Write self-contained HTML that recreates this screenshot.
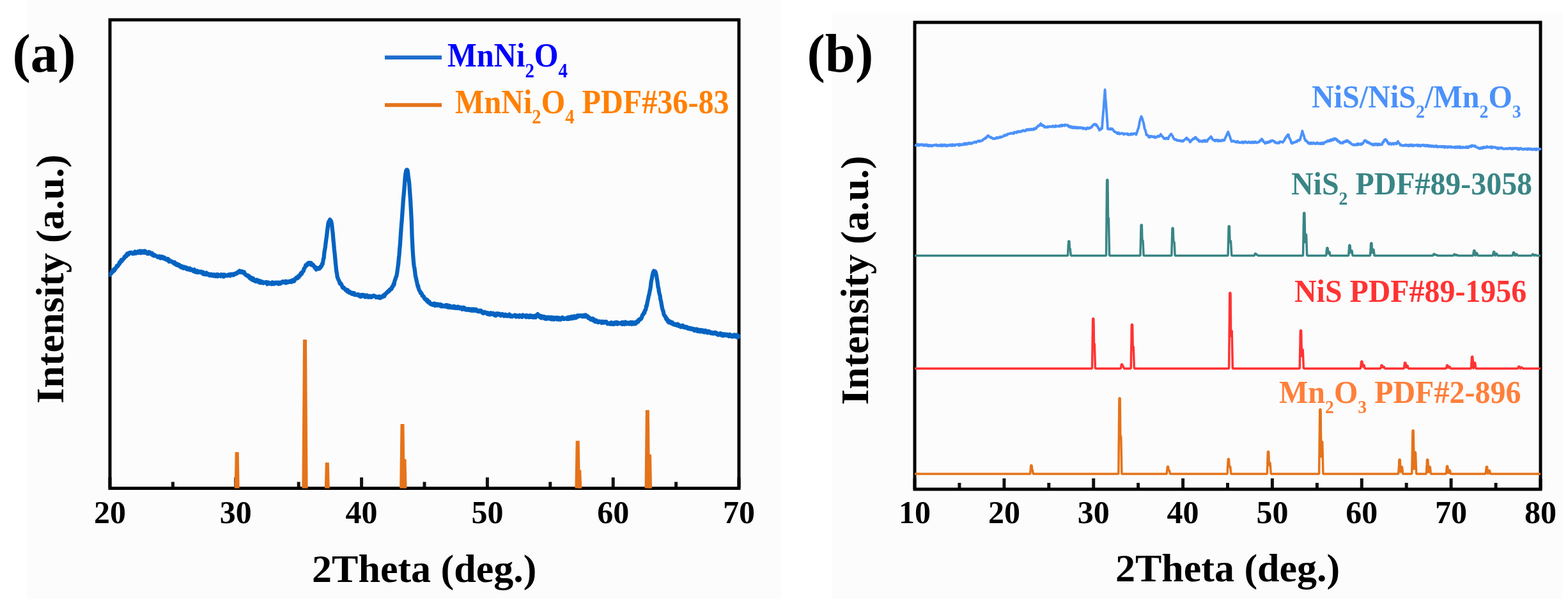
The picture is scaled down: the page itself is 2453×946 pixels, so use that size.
<!DOCTYPE html><html><head><meta charset="utf-8"><title>XRD patterns</title><style>html,body{margin:0;padding:0;background:#fff}svg{display:block}text{font-family:"Liberation Serif","Times New Roman",serif;font-weight:bold}</style></head><body>
<svg width="2453" height="946" viewBox="0 0 2453 946">
<rect width="2453" height="946" fill="#ffffff"/>
<rect x="43" y="0" width="1179" height="936" fill="#fcfcfc"/>
<rect x="1301" y="20" width="1143" height="916" fill="#fcfcfc"/>
<path d="M172.0,763.5 V746.5 M368.8,763.5 V746.5 M565.6,763.5 V746.5 M762.4,763.5 V746.5 M959.2,763.5 V746.5 M1156.0,763.5 V746.5 M270.4,763.5 V753.5 M467.2,763.5 V753.5 M664.0,763.5 V753.5 M860.8,763.5 V753.5 M1057.6,763.5 V753.5" fill="none" stroke="#111" stroke-width="5"/>
<rect x="172.0" y="31.0" width="984.0" height="732.5" fill="none" stroke="#000" stroke-width="5"/>
<path d="M172.0,429.1 L172.4,429.6 L173.0,428.2 L173.7,428.0 L174.6,427.0 L175.4,424.0 L176.3,422.7 L176.9,424.8 L177.6,422.1 L178.3,421.2 L179.0,423.0 L179.7,420.3 L180.5,420.7 L181.2,418.6 L182.0,418.3 L182.7,415.8 L183.4,416.6 L184.1,416.5 L184.8,414.4 L185.5,414.3 L186.2,413.2 L186.9,410.2 L187.6,411.6 L188.3,410.2 L189.0,408.3 L189.7,406.5 L190.4,408.5 L191.1,406.2 L191.8,406.2 L192.6,405.8 L193.3,404.4 L194.0,404.3 L194.7,401.7 L195.4,402.3 L196.2,400.3 L197.0,401.2 L197.8,400.3 L198.6,397.0 L199.3,396.5 L200.1,396.2 L200.9,398.2 L201.7,396.0 L202.4,396.3 L203.0,395.0 L203.6,395.5 L204.1,395.0 L204.8,394.8 L205.4,395.5 L206.2,395.5 L207.0,396.5 L208.0,395.6 L208.6,396.4 L209.2,396.1 L209.8,396.5 L210.5,395.3 L211.2,393.5 L211.9,395.8 L212.7,396.1 L213.4,395.8 L214.2,394.6 L215.0,395.0 L215.8,393.3 L216.5,395.3 L217.3,394.4 L218.1,393.4 L218.8,392.6 L219.5,395.2 L220.2,395.7 L220.8,392.6 L221.6,395.0 L222.4,393.7 L223.1,392.8 L223.8,393.3 L224.5,394.9 L225.2,395.3 L225.8,392.5 L226.5,394.5 L227.2,392.6 L227.9,395.0 L228.6,393.9 L229.4,395.9 L230.3,396.4 L230.9,395.0 L231.6,396.8 L232.2,394.7 L232.9,394.1 L233.6,396.2 L234.3,394.5 L235.0,395.3 L235.7,396.3 L236.4,397.3 L237.2,396.0 L237.9,395.9 L238.7,399.0 L239.4,397.4 L240.2,399.9 L241.0,400.0 L241.7,398.6 L242.5,399.1 L243.2,399.6 L244.0,400.3 L244.7,400.4 L245.4,400.5 L246.1,400.9 L246.8,402.2 L247.5,401.0 L248.2,401.0 L248.9,402.2 L249.7,400.8 L250.4,401.2 L251.1,403.7 L251.8,402.4 L252.5,402.8 L253.3,401.2 L254.0,402.8 L254.7,403.6 L255.4,401.9 L256.1,404.2 L256.8,404.5 L257.5,402.8 L258.1,405.0 L258.8,404.7 L259.6,405.7 L260.3,404.9 L261.0,406.4 L261.8,406.9 L262.5,404.8 L263.2,405.2 L263.9,407.6 L264.6,409.0 L265.3,406.9 L266.0,407.9 L266.7,408.7 L267.4,408.1 L268.0,408.6 L268.7,408.8 L269.4,409.3 L270.1,410.4 L270.8,409.8 L271.5,410.4 L272.2,412.1 L273.0,409.9 L273.7,412.1 L274.4,413.1 L275.2,412.0 L275.9,412.1 L276.6,414.5 L277.4,412.9 L278.1,413.2 L278.8,414.4 L279.6,415.6 L280.3,414.0 L281.0,415.1 L281.8,415.5 L282.5,417.5 L283.3,416.5 L284.0,418.2 L284.7,416.2 L285.4,417.0 L286.1,418.3 L286.9,419.4 L287.6,418.1 L288.3,417.6 L289.0,417.4 L289.8,419.0 L290.5,418.1 L291.2,420.4 L292.0,420.7 L292.7,418.7 L293.4,419.2 L294.1,421.2 L294.9,420.9 L295.6,421.6 L296.3,420.3 L297.0,419.7 L297.7,420.5 L298.4,422.4 L299.1,420.9 L299.8,421.3 L300.5,421.8 L301.2,422.0 L301.9,422.2 L302.6,424.1 L303.3,421.7 L304.0,421.4 L304.7,424.8 L305.4,424.8 L306.1,425.4 L306.8,423.7 L307.5,425.6 L308.2,425.8 L308.9,423.6 L309.6,425.5 L310.3,426.1 L311.1,425.7 L311.8,425.4 L312.5,424.8 L313.2,425.2 L314.0,425.0 L314.7,424.7 L315.4,426.6 L316.1,425.8 L316.9,427.8 L317.6,425.4 L318.3,428.5 L319.0,428.0 L319.8,428.9 L320.5,429.0 L321.3,429.2 L322.0,428.3 L322.7,426.5 L323.4,429.2 L324.1,427.4 L324.9,427.9 L325.6,429.3 L326.3,429.0 L327.0,428.8 L327.8,430.7 L328.5,429.8 L329.2,429.0 L329.9,428.8 L330.7,431.0 L331.4,429.8 L332.1,431.0 L332.8,429.6 L333.6,429.2 L334.3,430.4 L335.0,431.5 L335.7,429.4 L336.4,431.5 L337.1,432.1 L337.8,431.7 L338.5,431.8 L339.2,429.1 L339.9,431.3 L340.6,432.1 L341.3,429.4 L342.0,430.1 L342.7,430.2 L343.4,431.0 L344.1,430.7 L344.8,430.9 L345.5,431.9 L346.2,429.3 L346.9,429.5 L347.6,429.7 L348.3,429.7 L349.1,429.5 L349.9,432.6 L350.6,432.2 L351.4,429.6 L352.2,431.0 L352.9,430.3 L353.7,430.3 L354.5,430.4 L355.2,431.3 L356.0,431.1 L356.7,430.3 L357.4,429.6 L358.1,430.0 L358.7,429.3 L359.4,430.7 L360.0,431.1 L360.9,429.8 L361.7,428.7 L362.5,428.8 L363.2,429.3 L363.9,429.8 L364.6,430.2 L365.2,428.6 L365.9,429.8 L366.6,428.9 L367.3,428.0 L368.0,427.6 L368.7,427.7 L369.5,428.1 L370.2,426.8 L371.0,427.3 L371.7,426.2 L372.5,425.0 L373.3,425.7 L374.0,425.9 L374.8,423.5 L375.5,424.5 L376.2,424.3 L376.8,425.8 L377.7,426.0 L378.5,424.3 L379.2,426.3 L379.9,426.3 L380.6,425.0 L381.3,426.2 L382.1,425.6 L383.0,428.6 L383.6,428.5 L384.3,429.8 L385.0,430.1 L385.7,430.3 L386.4,431.2 L387.1,431.3 L387.8,430.5 L388.6,432.8 L389.4,431.5 L390.3,432.6 L391.1,435.4 L392.0,433.5 L392.6,434.0 L393.2,434.3 L393.9,437.3 L394.6,435.2 L395.3,435.0 L396.0,438.1 L396.7,436.0 L397.4,438.7 L398.1,438.4 L398.9,439.2 L399.6,439.9 L400.3,438.9 L401.1,439.9 L401.8,437.5 L402.5,440.2 L403.3,439.6 L404.0,440.5 L404.7,438.7 L405.4,441.1 L406.1,441.9 L406.7,439.1 L407.4,440.2 L408.1,441.2 L408.7,442.2 L409.3,440.4 L410.0,440.3 L410.7,440.7 L411.3,442.1 L412.0,442.7 L412.7,441.6 L413.4,441.6 L414.2,441.8 L414.9,441.7 L415.7,442.1 L416.5,441.0 L417.4,442.5 L418.0,444.2 L418.6,442.3 L419.3,443.5 L419.9,441.5 L420.6,443.3 L421.3,443.6 L422.0,443.3 L422.7,442.8 L423.4,442.7 L424.1,443.3 L424.9,444.2 L425.6,441.6 L426.3,441.4 L427.1,443.7 L427.8,444.2 L428.6,442.9 L429.3,442.6 L430.1,443.5 L430.8,441.7 L431.6,441.9 L432.3,441.7 L433.0,443.0 L433.7,442.0 L434.4,441.7 L435.1,443.2 L435.8,444.1 L436.4,441.8 L437.2,443.1 L438.0,442.1 L438.8,443.5 L439.5,442.5 L440.3,441.3 L441.1,441.0 L441.9,440.3 L442.6,441.7 L443.4,441.2 L444.1,440.4 L444.9,440.9 L445.6,440.6 L446.3,442.0 L447.0,439.8 L447.7,442.5 L448.4,440.6 L449.0,440.9 L449.7,440.3 L450.3,441.5 L450.9,441.3 L451.5,440.3 L452.0,439.9 L453.0,440.6 L453.9,440.9 L454.7,439.2 L455.4,440.3 L456.1,440.9 L456.7,439.1 L457.3,438.2 L458.0,438.0 L458.6,439.4 L459.3,439.0 L460.0,439.6 L460.7,438.8 L461.5,436.2 L462.2,435.5 L463.0,435.1 L463.8,434.2 L464.6,435.3 L465.4,435.2 L466.1,434.6 L466.9,431.7 L467.6,433.1 L468.3,430.6 L468.9,430.3 L469.8,430.5 L470.6,427.4 L471.4,426.5 L472.1,428.1 L472.8,425.4 L473.5,424.7 L474.2,424.5 L474.8,423.8 L475.6,420.0 L476.3,419.5 L477.0,418.2 L477.7,416.8 L478.4,414.4 L479.2,414.6 L479.9,415.2 L480.6,412.8 L481.3,412.9 L482.1,411.2 L482.9,411.5 L483.6,412.7 L484.4,410.8 L485.1,413.4 L485.9,413.6 L486.6,411.1 L487.4,414.4 L488.1,412.9 L488.8,414.8 L489.6,415.3 L490.3,414.3 L491.0,416.3 L491.8,417.1 L492.5,418.5 L493.2,417.6 L494.0,420.1 L494.7,421.4 L495.5,420.8 L496.2,420.4 L497.0,419.0 L497.8,420.2 L498.5,419.4 L499.3,420.3 L500.1,419.7 L500.8,418.8 L501.4,416.9 L502.3,417.3 L503.1,415.9 L503.8,412.7 L504.5,413.3 L505.1,410.4 L505.9,404.9 L506.6,403.4 L507.3,395.4 L508.0,391.1 L508.8,386.8 L509.5,380.5 L510.3,374.6 L511.1,369.0 L511.8,362.3 L512.6,356.2 L513.3,351.1 L514.0,347.2 L514.8,346.5 L515.5,344.8 L516.2,343.4 L517.0,344.8 L517.7,345.3 L518.5,347.8 L519.2,351.8 L520.0,359.9 L520.7,365.0 L521.4,374.4 L522.1,380.9 L522.9,390.1 L523.6,396.1 L524.3,403.6 L525.0,411.4 L525.8,418.9 L526.4,424.7 L527.1,428.0 L527.9,434.0 L528.8,435.2 L529.4,437.5 L530.1,438.4 L530.8,439.7 L531.6,443.1 L532.4,444.0 L533.2,443.2 L534.0,444.3 L534.7,446.1 L535.4,448.3 L536.0,449.5 L536.7,450.2 L537.4,450.6 L538.2,450.0 L539.0,451.7 L539.9,451.8 L540.5,453.4 L541.2,453.9 L541.9,453.1 L542.6,453.6 L543.3,455.8 L544.0,453.6 L544.8,456.5 L545.6,457.2 L546.3,457.7 L547.1,456.1 L548.0,457.0 L548.8,457.5 L549.4,457.9 L550.0,459.4 L550.6,458.7 L551.2,457.7 L551.8,459.9 L552.4,458.9 L553.0,459.7 L553.6,460.4 L554.2,458.2 L554.9,461.1 L555.6,461.0 L556.4,460.7 L557.2,461.1 L558.1,461.1 L559.0,460.5 L560.0,461.8 L560.5,460.2 L561.1,461.9 L561.7,462.5 L562.3,461.9 L563.0,462.4 L563.7,463.8 L564.3,463.6 L565.0,461.1 L565.8,463.4 L566.5,462.9 L567.2,461.0 L568.0,462.2 L568.7,461.8 L569.5,461.3 L570.3,462.9 L571.0,464.3 L571.8,462.3 L572.6,464.2 L573.4,463.6 L574.1,461.8 L574.9,464.3 L575.6,463.5 L576.4,464.6 L577.1,463.9 L577.8,464.1 L578.5,462.8 L579.2,464.4 L579.9,464.8 L580.6,464.6 L581.2,463.2 L581.8,464.4 L582.7,463.5 L583.5,462.3 L584.4,462.2 L585.2,462.4 L586.0,462.9 L586.9,462.9 L587.6,464.1 L588.4,464.9 L589.2,464.4 L589.9,464.1 L590.7,465.0 L591.4,463.9 L592.1,464.5 L592.8,465.5 L593.4,464.4 L594.1,463.6 L594.7,466.1 L595.3,465.4 L595.9,464.2 L596.5,464.1 L597.0,464.6 L598.1,464.6 L599.0,462.9 L599.8,461.7 L600.6,461.9 L601.2,463.3 L601.9,460.5 L602.5,460.9 L603.1,459.4 L603.7,458.9 L604.3,458.2 L605.1,458.3 L605.9,456.9 L606.6,455.8 L607.3,455.4 L608.0,454.9 L608.7,455.4 L609.3,453.2 L610.0,452.4 L610.9,452.9 L611.7,451.8 L612.5,451.9 L613.3,448.6 L614.1,448.7 L614.8,447.3 L615.6,444.3 L616.4,445.4 L617.1,440.7 L617.8,438.0 L618.5,436.9 L619.3,433.4 L620.1,432.6 L620.9,428.6 L621.7,423.1 L622.4,417.5 L623.1,413.4 L623.8,404.6 L624.5,398.6 L625.2,389.4 L625.9,382.4 L626.6,371.1 L627.3,361.3 L628.0,351.7 L628.7,344.1 L629.4,333.8 L630.2,322.8 L630.9,312.1 L631.6,304.9 L632.2,298.1 L633.1,286.6 L633.8,277.0 L634.5,271.4 L635.5,266.5 L636.4,265.4 L637.1,265.5 L637.8,267.6 L638.5,273.5 L639.3,280.1 L640.1,285.3 L641.0,298.1 L641.9,310.1 L642.9,327.5 L643.8,344.4 L644.6,369.7 L645.6,390.4 L646.2,399.4 L646.9,408.0 L647.7,416.1 L648.5,419.5 L649.3,425.8 L650.0,432.4 L650.7,433.7 L651.4,437.9 L652.1,440.6 L652.9,444.6 L653.5,447.7 L654.2,447.2 L654.8,451.0 L655.6,452.8 L656.4,454.9 L657.3,455.8 L657.9,458.2 L658.6,457.5 L659.2,458.8 L659.9,459.4 L660.6,462.5 L661.4,462.6 L662.2,463.0 L663.1,463.8 L664.0,466.7 L664.9,467.4 L665.5,468.3 L666.1,467.8 L666.7,468.8 L667.2,468.2 L667.8,470.7 L668.4,468.9 L669.1,471.0 L669.7,472.5 L670.4,472.8 L671.1,471.3 L671.9,472.3 L672.7,474.8 L673.5,474.6 L674.5,475.8 L675.4,476.2 L676.5,475.1 L677.0,476.8 L677.6,476.4 L678.2,475.2 L678.8,475.5 L679.5,474.6 L680.1,475.9 L680.8,477.9 L681.5,475.2 L682.2,476.9 L682.9,475.4 L683.7,475.4 L684.4,477.5 L685.2,476.2 L686.0,475.7 L686.7,476.1 L687.5,477.9 L688.3,477.8 L689.1,475.9 L689.9,476.7 L690.6,479.3 L691.4,476.9 L692.2,478.1 L692.9,477.7 L693.7,479.0 L694.4,478.5 L695.2,479.2 L695.9,478.4 L696.6,477.3 L697.3,477.4 L697.9,477.1 L698.6,479.7 L699.2,477.4 L699.8,477.2 L700.7,480.5 L701.5,478.0 L702.2,480.5 L703.0,477.9 L703.7,479.2 L704.3,478.5 L705.0,480.7 L705.6,480.0 L706.3,480.2 L706.9,480.7 L707.5,481.2 L708.1,479.5 L708.7,480.4 L709.3,480.0 L710.0,478.9 L710.7,481.5 L711.4,480.8 L712.1,481.6 L712.8,479.6 L713.6,480.9 L714.5,480.8 L715.4,481.8 L716.0,479.6 L716.6,480.6 L717.2,481.2 L717.8,479.9 L718.4,481.6 L719.1,482.3 L719.7,481.3 L720.4,482.1 L721.0,482.1 L721.7,480.8 L722.4,481.4 L723.1,483.7 L723.8,481.5 L724.5,481.9 L725.3,480.8 L726.0,481.4 L726.7,481.3 L727.4,484.0 L728.2,483.4 L728.9,484.0 L729.7,484.5 L730.4,483.3 L731.2,484.5 L731.9,483.2 L732.7,482.9 L733.4,484.8 L734.1,484.8 L734.9,485.1 L735.6,483.6 L736.4,484.7 L737.1,483.6 L737.8,485.7 L738.6,485.5 L739.3,483.5 L740.0,485.8 L740.7,483.4 L741.4,483.3 L742.1,485.5 L742.8,484.2 L743.5,485.1 L744.2,485.7 L744.9,483.8 L745.6,486.4 L746.3,485.0 L747.0,485.7 L747.7,485.6 L748.4,487.1 L749.1,487.3 L749.8,485.9 L750.5,485.5 L751.2,486.3 L751.9,486.9 L752.6,485.9 L753.3,486.4 L754.0,488.6 L754.7,488.6 L755.4,489.7 L756.1,489.9 L756.8,489.8 L757.6,488.2 L758.3,487.7 L759.0,488.4 L759.7,489.1 L760.4,489.4 L761.1,489.7 L761.8,489.2 L762.5,491.0 L763.2,489.2 L763.9,490.0 L764.6,491.6 L765.3,491.4 L766.0,489.8 L766.7,489.7 L767.4,491.8 L768.1,489.2 L768.8,489.7 L769.5,491.1 L770.2,491.3 L770.9,490.1 L771.7,489.8 L772.4,490.4 L773.1,492.4 L773.8,491.4 L774.5,493.3 L775.2,492.7 L775.9,493.4 L776.6,490.3 L777.3,490.9 L778.0,490.3 L778.7,491.8 L779.4,491.6 L780.2,490.6 L780.9,492.4 L781.6,490.9 L782.3,491.7 L783.0,491.5 L783.7,493.5 L784.4,492.2 L785.1,491.7 L785.8,491.0 L786.5,492.4 L787.2,493.1 L788.0,493.3 L788.7,494.2 L789.4,493.9 L790.1,492.0 L790.8,491.7 L791.5,493.9 L792.2,494.0 L792.9,493.1 L793.7,494.3 L794.4,493.4 L795.1,492.5 L795.9,492.2 L796.6,491.7 L797.4,493.9 L798.2,494.8 L798.9,494.8 L799.7,493.4 L800.5,494.1 L801.2,495.0 L802.0,494.7 L802.8,494.0 L803.5,493.4 L804.3,493.8 L805.0,492.6 L805.8,492.7 L806.5,494.4 L807.3,495.5 L808.0,494.0 L808.7,493.6 L809.4,493.4 L810.1,493.8 L810.8,495.0 L811.5,493.8 L812.2,495.6 L812.8,492.9 L813.5,493.4 L814.1,494.2 L814.7,493.8 L815.3,495.3 L815.9,495.3 L816.5,495.6 L817.0,494.6 L818.0,492.6 L819.0,494.5 L819.9,494.5 L820.8,494.3 L821.7,493.6 L822.4,495.1 L823.2,495.8 L823.9,493.0 L824.6,495.0 L825.3,494.0 L825.9,494.5 L826.5,495.8 L827.1,496.0 L827.7,494.9 L828.3,493.4 L828.8,495.9 L829.4,493.4 L830.0,494.1 L830.9,495.7 L831.8,494.0 L832.7,493.9 L833.4,496.2 L834.2,496.3 L834.9,494.2 L835.6,494.5 L836.2,494.2 L836.9,493.7 L837.4,494.0 L838.0,496.4 L839.1,493.0 L839.9,492.9 L840.6,492.1 L841.3,491.2 L842.0,492.6 L842.6,493.6 L843.1,494.5 L843.7,494.6 L844.6,496.0 L846.0,493.8 L846.5,494.9 L847.0,497.3 L847.5,494.4 L848.1,495.2 L848.7,496.0 L849.3,495.4 L849.9,496.5 L850.6,494.9 L851.3,495.7 L852.0,498.2 L852.7,495.5 L853.5,498.2 L854.3,495.9 L855.0,498.7 L855.8,497.7 L856.7,497.7 L857.5,496.1 L858.3,495.9 L859.2,498.3 L860.0,496.4 L860.6,496.5 L861.3,498.7 L861.9,498.9 L862.6,496.1 L863.3,499.3 L864.0,497.9 L864.7,497.4 L865.4,496.5 L866.2,497.5 L866.9,499.5 L867.7,497.2 L868.4,496.7 L869.2,496.7 L869.9,496.7 L870.7,497.5 L871.5,499.4 L872.2,496.6 L873.0,497.0 L873.7,499.5 L874.5,499.7 L875.2,499.7 L875.9,497.2 L876.7,497.6 L877.4,499.6 L878.0,498.0 L878.7,498.7 L879.4,497.4 L880.0,496.4 L880.8,497.4 L881.6,498.8 L882.4,498.9 L883.2,498.1 L884.0,497.7 L884.8,497.9 L885.6,497.5 L886.3,497.7 L887.0,498.7 L887.8,496.4 L888.5,497.7 L889.2,498.8 L889.9,498.4 L890.6,496.0 L891.2,498.6 L891.9,498.1 L892.5,495.7 L893.2,496.0 L893.8,495.7 L894.4,495.1 L895.0,498.1 L895.9,496.1 L896.7,497.5 L897.5,494.8 L898.3,494.3 L899.1,497.0 L899.8,496.6 L900.6,497.1 L901.3,495.9 L901.9,495.2 L902.6,495.9 L903.2,493.5 L903.8,494.9 L904.4,494.4 L905.0,493.3 L905.9,494.7 L906.8,493.5 L907.5,494.0 L908.2,493.4 L908.9,493.1 L909.6,493.1 L910.3,493.9 L911.0,495.1 L911.7,494.9 L912.5,494.7 L913.2,494.5 L913.9,492.7 L914.6,495.1 L915.4,492.8 L916.2,492.5 L917.0,494.0 L917.6,495.1 L918.3,494.0 L919.0,495.4 L919.7,494.6 L920.4,497.4 L921.1,496.1 L921.9,496.7 L922.6,497.3 L923.4,498.9 L924.2,499.7 L925.0,498.6 L925.6,498.6 L926.2,499.5 L926.8,497.9 L927.4,499.5 L927.9,501.2 L928.5,501.2 L929.1,499.1 L929.8,502.1 L930.5,500.8 L931.2,503.1 L932.0,501.3 L932.9,501.0 L933.9,502.4 L935.0,503.8 L935.5,502.4 L936.1,504.0 L936.7,503.6 L937.2,502.5 L937.9,502.4 L938.5,503.2 L939.1,503.0 L939.8,503.0 L940.5,504.1 L941.2,504.9 L941.9,504.1 L942.6,502.7 L943.3,503.0 L944.1,503.7 L944.8,504.6 L945.6,503.1 L946.3,503.0 L947.1,503.9 L947.9,503.9 L948.6,503.1 L949.4,504.9 L950.2,506.3 L951.0,505.1 L951.7,505.9 L952.5,506.3 L953.3,506.4 L954.0,506.7 L954.8,505.1 L955.5,506.0 L956.3,504.2 L957.0,506.8 L957.7,505.1 L958.4,505.5 L959.2,506.9 L959.9,504.9 L960.6,504.6 L961.4,506.7 L962.2,506.0 L962.9,504.2 L963.7,504.0 L964.5,505.1 L965.2,504.0 L966.0,506.7 L966.8,504.5 L967.5,504.8 L968.3,505.2 L969.1,505.6 L969.8,505.3 L970.6,505.9 L971.3,506.0 L972.1,505.2 L972.8,504.0 L973.5,507.0 L974.3,506.0 L975.0,503.9 L975.6,505.1 L976.3,506.1 L977.0,506.9 L977.6,503.8 L978.2,503.6 L978.8,505.1 L979.4,504.9 L980.0,506.5 L981.0,506.3 L981.9,504.6 L982.8,505.0 L983.6,505.6 L984.4,506.6 L985.2,504.4 L985.9,505.0 L986.6,504.1 L987.3,506.0 L988.0,503.9 L988.6,507.0 L989.2,505.6 L989.8,505.8 L990.4,504.1 L991.0,504.6 L991.6,505.3 L992.1,506.5 L992.7,505.3 L993.7,504.2 L994.6,506.2 L995.4,504.8 L996.1,503.9 L996.9,502.3 L997.5,502.1 L998.2,503.5 L998.9,500.3 L999.6,500.9 L1000.3,500.5 L1001.0,498.8 L1001.8,499.4 L1002.5,498.9 L1003.3,497.8 L1004.0,496.3 L1004.7,493.5 L1005.4,491.9 L1006.1,492.0 L1006.7,490.5 L1007.3,489.0 L1008.2,489.3 L1009.0,485.1 L1009.7,485.1 L1010.4,483.4 L1011.0,478.4 L1011.7,478.7 L1012.5,473.9 L1013.3,470.1 L1014.1,466.7 L1014.8,462.8 L1015.5,460.8 L1016.4,455.7 L1017.2,452.2 L1018.0,447.2 L1018.7,440.2 L1019.6,436.4 L1020.4,432.0 L1021.2,427.9 L1022.0,425.4 L1022.9,423.6 L1023.8,424.7 L1024.6,424.3 L1025.4,425.1 L1026.2,427.8 L1027.0,431.4 L1027.8,436.5 L1028.6,441.1 L1029.5,448.7 L1030.2,450.7 L1030.9,456.0 L1031.7,459.7 L1032.5,462.1 L1033.3,468.0 L1034.0,470.7 L1034.8,475.2 L1035.5,479.4 L1036.3,483.2 L1037.1,485.9 L1037.7,486.7 L1038.4,491.1 L1039.1,493.0 L1039.9,493.4 L1040.6,495.2 L1041.4,495.5 L1042.2,499.0 L1042.9,499.3 L1043.6,498.7 L1044.3,501.5 L1045.0,502.9 L1045.8,501.4 L1046.6,504.3 L1047.5,503.2 L1048.5,502.8 L1049.1,505.0 L1049.7,504.0 L1050.4,505.7 L1051.1,505.5 L1051.8,504.1 L1052.5,505.8 L1053.2,507.1 L1053.9,506.1 L1054.7,506.6 L1055.5,507.9 L1056.3,506.7 L1057.1,507.2 L1057.9,507.7 L1058.7,508.8 L1059.3,506.9 L1060.0,506.7 L1060.7,509.2 L1061.4,508.7 L1062.1,508.1 L1062.8,510.3 L1063.5,510.5 L1064.2,509.5 L1065.0,511.3 L1065.7,511.0 L1066.4,510.9 L1067.2,509.5 L1067.9,508.8 L1068.6,511.3 L1069.3,511.7 L1070.0,510.6 L1070.7,511.2 L1071.4,511.7 L1072.1,510.9 L1072.8,512.6 L1073.5,512.4 L1074.1,512.0 L1074.7,511.3 L1075.3,513.0 L1075.9,512.4 L1076.5,514.0 L1077.1,512.4 L1077.8,513.3 L1078.5,512.9 L1079.2,513.8 L1080.0,514.6 L1080.9,513.2 L1081.8,513.3 L1082.8,514.9 L1083.4,514.1 L1083.9,515.2 L1084.5,514.2 L1085.1,514.1 L1085.8,515.7 L1086.4,517.1 L1087.1,517.0 L1087.8,515.9 L1088.5,515.6 L1089.2,514.6 L1089.9,515.4 L1090.6,515.6 L1091.4,517.9 L1092.1,515.2 L1092.9,518.1 L1093.6,516.6 L1094.4,516.6 L1095.2,516.1 L1095.9,518.6 L1096.7,516.1 L1097.5,517.5 L1098.2,517.4 L1099.0,516.4 L1099.8,516.6 L1100.6,519.3 L1101.3,518.8 L1102.1,518.7 L1102.8,519.4 L1103.6,516.8 L1104.3,519.0 L1105.0,519.3 L1105.7,517.6 L1106.4,518.5 L1107.1,520.4 L1107.8,518.3 L1108.5,520.0 L1109.2,518.1 L1109.8,519.9 L1110.5,518.7 L1111.2,519.7 L1111.9,519.4 L1112.5,521.2 L1113.2,520.9 L1113.9,520.2 L1114.6,521.0 L1115.2,520.3 L1115.9,521.7 L1116.6,520.0 L1117.3,521.1 L1118.0,521.4 L1118.7,520.9 L1119.4,519.9 L1120.1,520.5 L1120.8,522.2 L1121.6,520.9 L1122.3,522.9 L1123.1,522.2 L1123.8,523.8 L1124.6,523.6 L1125.4,523.3 L1126.2,522.2 L1127.0,521.2 L1127.6,523.1 L1128.3,523.8 L1129.0,524.5 L1129.7,522.2 L1130.4,522.1 L1131.1,525.0 L1131.9,524.3 L1132.7,523.5 L1133.4,524.5 L1134.2,522.5 L1135.0,524.0 L1135.9,524.5 L1136.7,524.4 L1137.5,523.0 L1138.3,523.0 L1139.2,524.7 L1140.0,525.7 L1140.8,523.2 L1141.6,522.9 L1142.5,523.2 L1143.3,525.7 L1144.1,524.4 L1144.9,524.7 L1145.7,526.6 L1146.5,525.4 L1147.2,524.3 L1148.0,525.9 L1148.7,523.6 L1149.4,524.6 L1150.1,526.1 L1150.8,524.4 L1151.4,523.9 L1152.1,525.7 L1152.7,525.1 L1153.2,527.3 L1153.8,524.4 L1154.3,526.8 L1154.8,525.5 L1155.2,527.0 L1155.6,525.8 L1156.0,526.6" fill="none" stroke="#0563c1" stroke-width="6.3" stroke-linejoin="round" stroke-linecap="butt"/>
<path d="M369.7,763.5 L370.7,707.0 L371.7,763.5" fill="none" stroke="#e5731a" stroke-width="6" stroke-linejoin="bevel"/>
<path d="M475.4,763.5 L477.0,531.0 L478.6,763.5" fill="none" stroke="#e5731a" stroke-width="6" stroke-linejoin="bevel"/>
<path d="M510.8,763.5 L511.8,723.4 L512.8,763.5" fill="none" stroke="#e5731a" stroke-width="6" stroke-linejoin="bevel"/>
<path d="M628.2,763.5 L629.5,663.0 L630.8,763.5" fill="none" stroke="#e5731a" stroke-width="6" stroke-linejoin="bevel"/>
<path d="M632.8,763.5 L633.8,718.0 L634.8,763.5" fill="none" stroke="#e5731a" stroke-width="3.5" stroke-linejoin="bevel"/>
<path d="M902.4,763.5 L903.7,689.4 L905.0,763.5" fill="none" stroke="#e5731a" stroke-width="6" stroke-linejoin="bevel"/>
<path d="M906.5,763.5 L907.5,735.0 L908.5,763.5" fill="none" stroke="#e5731a" stroke-width="3.5" stroke-linejoin="bevel"/>
<path d="M1011.5,763.5 L1012.8,641.2 L1014.1,763.5" fill="none" stroke="#e5731a" stroke-width="6" stroke-linejoin="bevel"/>
<path d="M1016.3,763.5 L1017.3,710.5 L1018.3,763.5" fill="none" stroke="#e5731a" stroke-width="3.5" stroke-linejoin="bevel"/>
<line x1="602" y1="89.8" x2="691" y2="89.8" stroke="#1f6dcb" stroke-width="6.2"/>
<line x1="602" y1="164.2" x2="691" y2="164.2" stroke="#e5731a" stroke-width="6"/>
<text x="700" y="104.5" font-size="52" fill="#0000ff" transform="translate(700,0) scale(0.934,1) translate(-700,0)">MnNi<tspan font-size="31" dy="16.5">2</tspan><tspan dy="-16.5">O</tspan><tspan font-size="31" dy="16.5">4</tspan></text>
<text x="712" y="176.7" font-size="52" fill="#ff8000" transform="translate(712,0) scale(0.926,1) translate(-712,0)">MnNi<tspan font-size="31" dy="16.5">2</tspan><tspan dy="-16.5">O</tspan><tspan font-size="31" dy="16.5">4</tspan><tspan dy="-16.5"> PDF#36-83</tspan></text>
<text x="172.0" y="817.5" font-size="50" text-anchor="middle" fill="#000">20</text>
<text x="368.8" y="817.5" font-size="50" text-anchor="middle" fill="#000">30</text>
<text x="565.6" y="817.5" font-size="50" text-anchor="middle" fill="#000">40</text>
<text x="762.4" y="817.5" font-size="50" text-anchor="middle" fill="#000">50</text>
<text x="959.2" y="817.5" font-size="50" text-anchor="middle" fill="#000">60</text>
<text x="1156.0" y="817.5" font-size="50" text-anchor="middle" fill="#000">70</text>
<text x="663.7" y="909.5" font-size="62" text-anchor="middle" fill="#000">2Theta (deg.)</text>
<text transform="translate(99,631) rotate(-90)" x="0" y="0" font-size="62.3" fill="#000">Intensity (a.u.)</text>
<text x="19.5" y="111.5" font-size="85" fill="#000">(a)</text>
<path d="M1431.0,765.0 V748.0 M1570.9,765.0 V748.0 M1710.7,765.0 V748.0 M1850.6,765.0 V748.0 M1990.4,765.0 V748.0 M2130.3,765.0 V748.0 M2270.1,765.0 V748.0 M2410.0,765.0 V748.0 M1500.9,765.0 V755.0 M1640.8,765.0 V755.0 M1780.6,765.0 V755.0 M1920.5,765.0 V755.0 M2060.4,765.0 V755.0 M2200.2,765.0 V755.0 M2340.1,765.0 V755.0" fill="none" stroke="#111" stroke-width="5"/>
<rect x="1431.0" y="35.0" width="979.0" height="730.0" fill="none" stroke="#000" stroke-width="5"/>
<path d="M1431.0,741.0 L1611.6,741.0 L1611.8,739.3 L1611.9,737.6 L1612.1,735.9 L1612.2,734.2 L1612.4,732.5 L1612.5,730.8 L1612.7,729.1 L1612.7,729.1 L1612.8,727.4 L1612.8,727.4 L1613.0,727.4 L1613.1,727.4 L1613.3,727.4 L1613.4,727.4 L1613.6,727.4 L1613.7,727.4 L1613.9,727.4 L1614.0,727.4 L1614.2,729.1 L1614.3,730.8 L1614.5,732.5 L1614.6,734.2 L1614.8,734.2 L1614.9,734.2 L1615.0,734.2 L1615.1,734.2 L1615.2,735.0 L1615.2,735.1 L1615.4,735.9 L1615.5,736.7 L1615.7,737.6 L1615.8,738.4 L1616.0,739.3 L1616.1,740.1 L1616.3,741.0 L1749.8,741.0 L1750.0,726.2 L1750.1,711.4 L1750.2,696.5 L1750.4,681.7 L1750.5,666.9 L1750.7,652.0 L1750.8,637.2 L1751.0,622.4 L1751.3,622.4 L1751.5,622.4 L1751.6,622.4 L1751.8,622.4 L1751.9,622.4 L1752.1,622.4 L1752.2,622.4 L1752.2,625.0 L1752.3,637.2 L1752.4,639.9 L1752.5,652.0 L1752.5,654.7 L1752.6,666.9 L1752.8,681.7 L1752.9,681.7 L1753.1,681.7 L1753.2,681.7 L1753.4,681.7 L1753.7,681.7 L1753.9,689.1 L1754.0,696.5 L1754.2,703.9 L1754.3,711.3 L1754.5,718.8 L1754.6,726.2 L1754.8,733.6 L1754.9,741.0 L1825.2,741.0 L1825.4,739.5 L1825.5,738.1 L1825.7,736.6 L1825.8,735.2 L1826.0,733.7 L1826.1,732.3 L1826.2,730.9 L1826.4,729.4 L1827.0,729.4 L1827.1,729.4 L1827.3,729.4 L1827.4,729.4 L1827.6,729.4 L1827.6,729.4 L1827.7,730.8 L1827.8,730.9 L1827.9,732.3 L1827.9,732.3 L1828.0,733.7 L1828.0,733.7 L1828.2,735.2 L1828.2,735.2 L1828.3,735.2 L1828.5,735.2 L1828.6,735.2 L1828.8,735.2 L1829.4,735.2 L1829.5,735.9 L1829.7,736.6 L1829.8,737.4 L1830.0,738.1 L1830.1,738.8 L1830.3,739.5 L1830.4,740.3 L1830.6,741.0 L1920.1,741.0 L1920.3,738.0 L1920.4,735.1 L1920.6,732.1 L1920.7,729.2 L1920.9,726.2 L1921.0,723.3 L1921.2,720.4 L1921.3,717.4 L1922.2,717.4 L1922.4,717.4 L1922.5,717.4 L1922.5,718.3 L1922.7,720.4 L1922.7,721.2 L1922.8,723.3 L1922.8,724.2 L1923.0,726.2 L1923.0,727.1 L1923.1,729.2 L1923.1,730.1 L1923.2,731.1 L1923.3,730.7 L1923.4,729.6 L1923.4,729.2 L1923.5,729.2 L1923.7,729.2 L1924.6,729.2 L1924.8,730.7 L1924.9,732.1 L1925.1,733.6 L1925.2,735.1 L1925.4,736.6 L1925.5,738.0 L1925.7,739.5 L1925.8,741.0 L1982.3,741.0 L1982.5,736.6 L1982.6,732.2 L1982.8,727.9 L1982.9,723.5 L1983.0,719.1 L1983.2,714.7 L1983.3,710.4 L1983.5,706.0 L1984.7,706.0 L1984.7,706.0 L1984.8,709.9 L1984.8,710.4 L1985.0,714.3 L1985.0,714.7 L1985.1,718.7 L1985.1,719.1 L1985.3,723.1 L1985.3,723.5 L1985.4,727.4 L1985.4,727.9 L1985.6,727.9 L1985.6,727.7 L1985.7,725.7 L1985.7,725.5 L1985.9,723.5 L1985.9,723.5 L1987.1,723.5 L1987.2,725.7 L1987.4,727.9 L1987.5,730.1 L1987.7,732.2 L1987.8,734.4 L1988.0,736.6 L1988.1,738.8 L1988.3,741.0 L2063.6,741.0 L2063.8,728.4 L2063.9,715.8 L2064.1,703.2 L2064.2,690.5 L2064.4,677.9 L2064.5,665.3 L2064.7,652.7 L2064.8,640.1 L2066.0,640.1 L2066.2,652.7 L2066.3,665.3 L2066.3,666.2 L2066.4,677.9 L2066.5,678.8 L2066.6,690.5 L2066.6,691.4 L2066.8,703.2 L2066.8,704.0 L2066.9,715.8 L2066.9,715.8 L2067.1,709.9 L2067.1,709.5 L2067.2,703.6 L2067.2,703.2 L2067.4,696.9 L2067.5,690.5 L2068.7,690.5 L2068.9,696.9 L2069.0,703.2 L2069.2,709.5 L2069.3,715.8 L2069.5,722.1 L2069.6,728.4 L2069.8,734.7 L2069.9,741.0 L2187.8,741.0 L2187.9,738.2 L2188.1,735.4 L2188.2,732.5 L2188.4,729.7 L2188.6,726.9 L2188.7,724.1 L2188.8,721.2 L2189.0,718.4 L2190.2,718.4 L2190.3,721.2 L2190.5,724.1 L2190.6,726.9 L2190.8,729.7 L2190.9,732.5 L2191.0,734.3 L2191.1,735.4 L2191.2,737.1 L2191.2,738.2 L2191.3,738.2 L2191.4,737.6 L2191.5,736.8 L2191.6,735.3 L2191.8,733.9 L2191.9,732.5 L2192.1,731.1 L2192.2,729.7 L2193.4,729.7 L2193.6,731.1 L2193.7,732.5 L2193.9,733.9 L2194.0,735.3 L2194.2,736.8 L2194.3,738.2 L2194.5,739.6 L2194.6,741.0 L2208.8,741.0 L2208.9,732.5 L2209.1,724.0 L2209.2,715.5 L2209.4,707.0 L2209.6,698.6 L2209.7,690.1 L2209.8,681.6 L2210.0,673.1 L2211.2,673.1 L2211.3,681.6 L2211.5,690.1 L2211.6,698.6 L2211.8,707.0 L2211.9,715.5 L2212.1,724.0 L2212.1,726.2 L2212.2,732.5 L2212.3,734.7 L2212.4,733.6 L2212.4,732.5 L2212.6,728.3 L2212.7,724.0 L2212.9,719.8 L2213.0,715.5 L2213.2,711.3 L2213.3,707.0 L2214.5,707.0 L2214.7,711.3 L2214.8,715.5 L2215.0,719.8 L2215.1,724.0 L2215.3,728.3 L2215.4,732.5 L2215.6,736.8 L2215.7,741.0 L2231.4,741.0 L2231.5,738.2 L2231.7,735.4 L2231.8,732.5 L2232.0,729.7 L2232.2,726.9 L2232.3,724.1 L2232.4,721.2 L2232.6,718.4 L2233.8,718.4 L2233.9,721.2 L2234.1,724.1 L2234.2,726.9 L2234.4,729.7 L2234.5,732.5 L2234.7,735.4 L2234.8,738.0 L2234.8,738.2 L2235.0,739.6 L2235.0,739.5 L2235.1,738.2 L2235.3,736.8 L2235.4,735.3 L2235.6,733.9 L2235.7,732.5 L2235.9,731.1 L2236.0,729.7 L2237.2,729.7 L2237.4,731.1 L2237.5,732.5 L2237.7,733.9 L2237.8,735.3 L2238.0,736.8 L2238.1,738.2 L2238.3,739.6 L2238.4,741.0 L2262.3,741.0 L2262.4,739.5 L2262.6,737.9 L2262.8,736.4 L2262.9,734.8 L2263.1,733.3 L2263.2,731.8 L2263.3,730.2 L2263.5,728.7 L2264.7,728.7 L2264.8,730.2 L2265.0,731.8 L2265.1,733.3 L2265.3,734.8 L2265.4,736.4 L2265.6,737.9 L2265.8,739.5 L2265.9,740.9 L2265.9,740.9 L2266.0,740.2 L2266.2,739.5 L2266.3,738.7 L2266.5,737.9 L2266.6,737.2 L2266.8,736.4 L2266.9,735.6 L2267.1,734.9 L2268.3,734.9 L2268.4,735.6 L2268.6,736.4 L2268.7,737.2 L2268.9,737.9 L2269.0,738.7 L2269.2,739.5 L2269.3,740.2 L2269.5,741.0 L2324.1,741.0 L2324.2,739.6 L2324.4,738.2 L2324.6,736.8 L2324.7,735.3 L2324.9,733.9 L2325.0,732.5 L2325.2,731.1 L2325.3,729.7 L2326.5,729.7 L2326.7,731.1 L2326.8,732.5 L2326.9,733.9 L2327.1,735.3 L2327.2,736.8 L2327.4,738.2 L2327.6,739.6 L2327.7,741.0 L2328.0,741.0 L2328.1,740.3 L2328.3,739.6 L2328.4,738.9 L2328.6,738.2 L2328.7,737.5 L2328.9,736.8 L2329.0,736.1 L2329.2,735.4 L2330.4,735.4 L2330.5,736.1 L2330.7,736.8 L2330.8,737.5 L2331.0,738.2 L2331.1,738.9 L2331.3,739.6 L2331.4,740.3 L2331.6,741.0 L2410.0,741.0" fill="none" stroke="#e5731a" stroke-width="3.5" stroke-linejoin="bevel"/>
<path d="M1431.0,576.2 L1708.5,576.2 L1708.7,566.4 L1708.8,556.7 L1709.0,546.9 L1709.1,537.1 L1709.2,527.4 L1709.4,517.6 L1709.5,507.9 L1709.7,498.1 L1709.9,498.1 L1710.0,498.1 L1710.2,498.1 L1710.3,498.1 L1710.5,498.1 L1710.6,498.1 L1710.8,498.1 L1710.9,498.1 L1710.9,500.3 L1711.0,507.9 L1711.1,510.0 L1711.2,517.6 L1711.3,527.4 L1711.5,537.1 L1711.6,537.2 L1711.8,537.2 L1711.9,537.2 L1712.1,537.2 L1712.3,537.2 L1712.4,542.0 L1712.6,546.9 L1712.7,551.8 L1712.9,556.7 L1713.0,561.6 L1713.2,566.4 L1713.3,571.3 L1713.5,576.2 L1753.3,576.2 L1753.5,575.3 L1753.6,574.5 L1753.8,573.6 L1753.9,572.8 L1754.0,571.9 L1754.2,571.1 L1754.3,570.2 L1754.5,569.4 L1754.8,569.4 L1755.0,569.4 L1755.1,569.4 L1755.3,569.4 L1755.4,569.4 L1755.6,569.4 L1755.7,569.4 L1755.7,569.6 L1755.8,570.2 L1755.9,570.5 L1756.0,571.1 L1756.0,571.3 L1756.1,571.9 L1756.3,572.8 L1756.4,572.8 L1756.6,572.8 L1756.7,572.8 L1756.9,572.8 L1757.2,572.8 L1757.4,573.2 L1757.5,573.6 L1757.7,574.1 L1757.8,574.5 L1758.0,574.9 L1758.1,575.4 L1758.3,575.8 L1758.4,576.2 L1769.2,576.2 L1769.4,567.6 L1769.5,559.0 L1769.7,550.4 L1769.8,541.7 L1770.0,533.1 L1770.1,524.5 L1770.2,515.9 L1770.4,507.3 L1770.8,507.3 L1770.9,507.3 L1771.1,507.3 L1771.2,507.3 L1771.4,507.3 L1771.5,507.3 L1771.6,507.3 L1771.7,512.8 L1771.8,515.9 L1771.8,521.4 L1771.9,524.5 L1772.0,530.0 L1772.0,533.1 L1772.2,541.7 L1772.3,541.8 L1772.5,541.8 L1772.6,541.8 L1772.8,541.8 L1773.2,541.8 L1773.3,546.1 L1773.5,550.4 L1773.6,554.7 L1773.8,559.0 L1773.9,563.3 L1774.1,567.6 L1774.2,571.9 L1774.4,576.2 L1922.6,576.2 L1922.8,561.4 L1922.9,546.6 L1923.1,531.8 L1923.2,517.0 L1923.4,502.2 L1923.5,487.4 L1923.7,472.6 L1923.8,457.8 L1924.8,457.8 L1924.9,457.8 L1925.0,457.8 L1925.1,463.2 L1925.2,472.6 L1925.2,478.0 L1925.3,487.4 L1925.4,492.8 L1925.5,502.2 L1925.5,507.6 L1925.6,517.0 L1925.7,522.4 L1925.8,527.1 L1925.8,524.4 L1925.9,519.7 L1926.0,517.0 L1926.0,517.0 L1926.2,517.0 L1927.2,517.0 L1927.3,524.4 L1927.5,531.8 L1927.6,539.2 L1927.8,546.6 L1927.9,554.0 L1928.1,561.4 L1928.2,568.8 L1928.4,576.2 L2033.2,576.2 L2033.4,568.7 L2033.5,561.3 L2033.7,553.8 L2033.8,546.3 L2034.0,538.9 L2034.1,531.4 L2034.2,524.0 L2034.4,516.5 L2035.6,516.5 L2035.8,524.0 L2035.8,525.8 L2035.9,531.4 L2035.9,533.2 L2036.0,538.9 L2036.1,540.7 L2036.2,546.3 L2036.2,548.2 L2036.3,553.8 L2036.4,555.6 L2036.5,558.5 L2036.5,557.5 L2036.6,554.7 L2036.7,553.8 L2036.8,551.0 L2036.8,550.1 L2037.0,546.4 L2038.2,546.4 L2038.3,550.1 L2038.5,553.8 L2038.6,557.5 L2038.8,561.3 L2038.9,565.0 L2039.1,568.7 L2039.2,572.5 L2039.4,576.2 L2128.5,576.2 L2128.7,574.8 L2128.8,573.4 L2129.0,572.0 L2129.1,570.5 L2129.3,569.1 L2129.4,567.7 L2129.6,566.3 L2129.7,564.9 L2130.9,564.9 L2131.1,566.3 L2131.2,567.7 L2131.3,569.1 L2131.5,570.4 L2131.5,570.5 L2131.6,571.8 L2131.7,572.0 L2131.8,573.2 L2131.8,573.4 L2131.9,574.1 L2132.0,574.0 L2132.1,573.4 L2132.1,573.3 L2132.2,572.7 L2132.4,572.0 L2132.5,571.3 L2132.7,570.5 L2133.9,570.5 L2134.0,571.3 L2134.2,572.0 L2134.3,572.7 L2134.5,573.4 L2134.6,574.1 L2134.8,574.8 L2134.9,575.5 L2135.1,576.2 L2159.8,576.2 L2159.9,575.6 L2160.1,574.9 L2160.2,574.2 L2160.4,573.6 L2160.6,572.9 L2160.7,572.3 L2160.8,571.6 L2161.0,571.0 L2162.2,571.0 L2162.3,571.6 L2162.5,572.3 L2162.6,572.9 L2162.8,573.6 L2162.9,574.1 L2162.9,574.2 L2163.1,574.8 L2163.1,574.9 L2163.2,575.4 L2163.2,575.5 L2163.4,575.2 L2163.4,575.2 L2163.5,574.9 L2163.7,574.6 L2163.8,574.3 L2164.0,573.9 L2164.1,573.6 L2165.3,573.6 L2165.5,573.9 L2165.6,574.3 L2165.8,574.6 L2165.9,574.9 L2166.1,575.2 L2166.2,575.6 L2166.4,575.9 L2166.5,576.2 L2196.4,576.2 L2196.5,575.0 L2196.7,573.9 L2196.8,572.7 L2197.0,571.5 L2197.2,570.4 L2197.3,569.2 L2197.4,568.1 L2197.6,566.9 L2198.8,566.9 L2198.9,568.1 L2199.1,569.2 L2199.2,570.4 L2199.4,571.5 L2199.5,572.7 L2199.7,573.7 L2199.7,573.9 L2199.8,574.9 L2199.8,575.0 L2200.0,575.0 L2200.0,575.0 L2200.1,574.5 L2200.3,573.9 L2200.4,573.3 L2200.6,572.7 L2200.7,572.1 L2200.9,571.5 L2202.1,571.5 L2202.2,572.1 L2202.4,572.7 L2202.5,573.3 L2202.7,573.9 L2202.8,574.5 L2203.0,575.0 L2203.1,575.6 L2203.3,576.2 L2262.3,576.2 L2262.4,575.6 L2262.6,574.9 L2262.8,574.2 L2262.9,573.6 L2263.1,572.9 L2263.2,572.3 L2263.3,571.6 L2263.5,571.0 L2264.7,571.0 L2264.8,571.6 L2265.0,572.3 L2265.1,572.9 L2265.3,573.6 L2265.4,574.2 L2265.6,574.9 L2265.8,575.6 L2265.9,576.2 L2265.9,576.2 L2266.0,575.9 L2266.2,575.6 L2266.3,575.2 L2266.5,574.9 L2266.6,574.6 L2266.8,574.3 L2266.9,573.9 L2267.1,573.6 L2268.3,573.6 L2268.4,573.9 L2268.6,574.3 L2268.7,574.6 L2268.9,574.9 L2269.0,575.2 L2269.2,575.6 L2269.3,575.9 L2269.5,576.2 L2301.4,576.2 L2301.5,573.9 L2301.7,571.6 L2301.8,569.2 L2302.0,566.9 L2302.2,564.6 L2302.3,562.3 L2302.4,559.9 L2302.6,557.6 L2303.8,557.6 L2303.9,559.9 L2304.1,562.3 L2304.2,564.6 L2304.4,566.9 L2304.5,569.2 L2304.7,571.6 L2304.8,573.9 L2305.0,576.2 L2305.2,576.2 L2305.3,575.0 L2305.5,573.9 L2305.6,572.7 L2305.8,571.5 L2305.9,570.4 L2306.1,569.2 L2306.2,568.1 L2306.4,566.9 L2307.6,566.9 L2307.7,568.1 L2307.9,569.2 L2308.0,570.4 L2308.2,571.5 L2308.3,572.7 L2308.5,573.9 L2308.6,575.0 L2308.8,576.2 L2374.5,576.2 L2374.7,575.8 L2374.8,575.4 L2375.0,575.0 L2375.1,574.6 L2375.3,574.2 L2375.4,573.8 L2375.6,573.4 L2375.7,573.0 L2376.9,573.0 L2377.1,573.4 L2377.2,573.8 L2377.3,574.2 L2377.5,574.6 L2377.7,575.0 L2377.8,575.4 L2378.0,575.8 L2378.1,576.2 L2378.7,576.2 L2378.8,576.0 L2379.0,575.8 L2379.1,575.6 L2379.3,575.4 L2379.4,575.2 L2379.6,575.0 L2379.7,574.8 L2379.9,574.6 L2381.1,574.6 L2381.2,574.8 L2381.4,575.0 L2381.5,575.2 L2381.7,575.4 L2381.8,575.6 L2382.0,575.8 L2382.1,576.0 L2382.3,576.2 L2410.0,576.2" fill="none" stroke="#ff3333" stroke-width="3.5" stroke-linejoin="bevel"/>
<path d="M1431.0,399.8 L1670.4,399.8 L1670.6,396.9 L1670.7,394.1 L1670.9,391.2 L1671.0,388.4 L1671.2,385.5 L1671.3,382.7 L1671.5,379.9 L1671.6,377.0 L1671.7,377.0 L1671.8,377.0 L1672.0,377.0 L1672.1,377.0 L1672.3,377.0 L1672.4,377.0 L1672.6,377.0 L1672.7,377.0 L1672.8,377.0 L1672.9,378.0 L1673.0,379.9 L1673.1,382.7 L1673.2,385.5 L1673.4,388.4 L1673.5,388.4 L1673.7,388.4 L1673.8,388.4 L1674.0,388.4 L1674.1,388.4 L1674.2,389.8 L1674.4,391.2 L1674.5,392.7 L1674.7,394.1 L1674.8,395.5 L1675.0,396.9 L1675.1,398.4 L1675.3,399.8 L1730.5,399.8 L1730.7,384.9 L1730.8,370.1 L1731.0,355.2 L1731.1,340.4 L1731.2,325.5 L1731.4,310.7 L1731.5,295.9 L1731.7,281.0 L1732.0,281.0 L1732.1,281.0 L1732.3,281.0 L1732.4,281.0 L1732.6,281.0 L1732.7,281.0 L1732.9,281.0 L1732.9,281.0 L1733.0,291.8 L1733.0,295.9 L1733.2,306.7 L1733.2,310.7 L1733.3,325.5 L1733.5,340.4 L1733.6,340.4 L1733.8,340.4 L1733.9,340.4 L1734.1,340.4 L1734.4,340.4 L1734.5,347.8 L1734.7,355.2 L1734.8,362.7 L1735.0,370.1 L1735.1,377.5 L1735.3,384.9 L1735.4,392.4 L1735.6,399.8 L1783.9,399.8 L1784.1,393.8 L1784.2,387.7 L1784.4,381.7 L1784.5,375.6 L1784.7,369.6 L1784.8,363.6 L1785.0,357.5 L1785.1,351.5 L1785.5,351.5 L1785.7,351.5 L1785.8,351.5 L1786.0,351.5 L1786.1,351.5 L1786.3,351.5 L1786.3,351.5 L1786.4,357.4 L1786.5,357.5 L1786.6,363.5 L1786.6,363.6 L1786.7,369.5 L1786.8,369.6 L1786.9,375.6 L1787.0,375.6 L1787.2,375.6 L1787.3,375.6 L1787.5,375.6 L1787.9,375.6 L1788.1,378.7 L1788.2,381.7 L1788.4,384.7 L1788.5,387.7 L1788.7,390.7 L1788.8,393.8 L1789.0,396.8 L1789.1,399.8 L1832.8,399.8 L1833.0,394.4 L1833.1,389.0 L1833.2,383.6 L1833.4,378.2 L1833.5,372.8 L1833.7,367.4 L1833.8,362.0 L1834.0,356.6 L1834.6,356.6 L1834.8,356.6 L1834.9,356.6 L1835.1,356.6 L1835.2,356.6 L1835.2,357.4 L1835.3,362.0 L1835.4,362.8 L1835.5,367.4 L1835.5,368.2 L1835.6,372.8 L1835.7,373.6 L1835.8,378.2 L1835.8,378.2 L1835.9,378.2 L1836.1,378.2 L1836.2,378.2 L1836.4,378.2 L1837.0,378.2 L1837.2,380.9 L1837.3,383.6 L1837.5,386.3 L1837.6,389.0 L1837.8,391.7 L1837.9,394.4 L1838.1,397.1 L1838.2,399.8 L1921.0,399.8 L1921.2,394.0 L1921.3,388.2 L1921.5,382.4 L1921.6,376.6 L1921.8,370.8 L1921.9,365.0 L1922.0,359.2 L1922.2,353.4 L1923.1,353.4 L1923.3,353.4 L1923.4,353.4 L1923.4,355.3 L1923.5,359.2 L1923.6,361.1 L1923.7,365.0 L1923.7,366.9 L1923.8,370.8 L1923.9,372.7 L1924.0,376.6 L1924.0,378.5 L1924.1,380.4 L1924.2,379.5 L1924.3,377.5 L1924.3,376.6 L1924.4,376.6 L1924.6,376.6 L1925.5,376.6 L1925.7,379.5 L1925.8,382.4 L1926.0,385.3 L1926.1,388.2 L1926.3,391.1 L1926.4,394.0 L1926.6,396.9 L1926.7,399.8 L1962.2,399.8 L1962.4,399.4 L1962.5,399.0 L1962.7,398.6 L1962.8,398.2 L1963.0,397.8 L1963.1,397.4 L1963.2,397.0 L1963.4,396.6 L1964.5,396.6 L1964.6,396.6 L1964.7,396.8 L1964.8,397.0 L1964.8,397.2 L1964.9,397.4 L1965.0,397.6 L1965.0,397.8 L1965.1,398.0 L1965.2,398.2 L1965.3,398.4 L1965.3,398.6 L1965.4,398.6 L1965.5,398.5 L1965.6,398.4 L1965.6,398.3 L1965.7,398.2 L1965.8,398.2 L1966.9,398.2 L1967.1,398.4 L1967.2,398.6 L1967.4,398.8 L1967.5,399.0 L1967.7,399.2 L1967.8,399.4 L1968.0,399.6 L1968.1,399.8 L2038.5,399.8 L2038.7,391.4 L2038.8,383.1 L2039.0,374.7 L2039.1,366.3 L2039.2,357.9 L2039.4,349.5 L2039.5,341.2 L2039.7,332.8 L2040.9,332.8 L2041.0,341.2 L2041.1,344.4 L2041.2,349.5 L2041.3,352.8 L2041.3,357.9 L2041.4,361.2 L2041.5,366.3 L2041.6,369.5 L2041.6,374.7 L2041.7,377.9 L2041.8,380.5 L2041.9,378.9 L2041.9,376.3 L2042.0,374.7 L2042.1,372.1 L2042.2,370.5 L2042.3,366.3 L2043.5,366.3 L2043.7,370.5 L2043.8,374.7 L2044.0,378.9 L2044.1,383.0 L2044.3,387.2 L2044.4,391.4 L2044.6,395.6 L2044.7,399.8 L2074.6,399.8 L2074.8,398.3 L2074.9,396.7 L2075.1,395.1 L2075.2,393.6 L2075.4,392.0 L2075.5,390.5 L2075.7,388.9 L2075.8,387.4 L2077.0,387.4 L2077.2,388.9 L2077.3,390.5 L2077.4,391.1 L2077.4,392.0 L2077.5,392.6 L2077.6,393.6 L2077.7,394.2 L2077.8,395.1 L2077.8,395.7 L2077.9,396.7 L2078.0,396.7 L2078.1,396.2 L2078.1,395.9 L2078.2,395.4 L2078.3,395.2 L2078.4,394.4 L2078.6,393.6 L2079.8,393.6 L2079.9,394.4 L2080.1,395.2 L2080.2,395.9 L2080.4,396.7 L2080.5,397.5 L2080.7,398.2 L2080.8,399.0 L2081.0,399.8 L2109.6,399.8 L2109.8,397.7 L2109.9,395.6 L2110.1,393.6 L2110.2,391.5 L2110.4,389.4 L2110.5,387.4 L2110.7,385.3 L2110.8,383.2 L2112.0,383.2 L2112.2,385.3 L2112.3,387.4 L2112.4,389.4 L2112.5,390.2 L2112.6,391.5 L2112.7,392.2 L2112.8,393.6 L2112.8,394.3 L2112.9,395.6 L2113.0,396.4 L2113.1,396.0 L2113.1,395.6 L2113.2,395.0 L2113.3,394.6 L2113.4,393.6 L2113.6,392.5 L2113.7,391.5 L2114.9,391.5 L2115.1,392.5 L2115.2,393.6 L2115.4,394.6 L2115.5,395.6 L2115.7,396.7 L2115.8,397.7 L2116.0,398.8 L2116.1,399.8 L2143.5,399.8 L2143.7,397.3 L2143.8,394.9 L2144.0,392.4 L2144.1,389.9 L2144.3,387.4 L2144.4,385.0 L2144.6,382.5 L2144.7,380.0 L2145.9,380.0 L2146.1,382.5 L2146.2,385.0 L2146.3,387.4 L2146.5,389.9 L2146.5,390.7 L2146.7,392.4 L2146.7,393.2 L2146.8,394.9 L2146.8,395.6 L2147.0,396.5 L2147.0,396.1 L2147.1,395.2 L2147.1,394.8 L2147.3,393.6 L2147.4,392.4 L2147.6,391.1 L2147.7,389.9 L2148.9,389.9 L2149.1,391.1 L2149.2,392.4 L2149.4,393.6 L2149.5,394.8 L2149.7,396.1 L2149.8,397.3 L2150.0,398.6 L2150.1,399.8 L2241.7,399.8 L2241.8,399.5 L2242.0,399.1 L2242.2,398.7 L2242.3,398.4 L2242.5,398.0 L2242.6,397.7 L2242.8,397.4 L2242.9,397.0 L2244.1,397.0 L2244.2,397.4 L2244.4,397.7 L2244.5,398.0 L2244.7,398.4 L2244.8,398.7 L2245.0,399.1 L2245.2,399.5 L2245.2,399.5 L2245.3,399.7 L2245.3,399.6 L2245.5,399.4 L2245.6,399.3 L2245.8,399.1 L2245.9,398.9 L2246.1,398.8 L2246.2,398.6 L2246.4,398.4 L2247.6,398.4 L2247.7,398.6 L2247.9,398.8 L2248.0,398.9 L2248.2,399.1 L2248.3,399.3 L2248.5,399.4 L2248.6,399.6 L2248.8,399.8 L2273.6,399.8 L2273.8,399.5 L2273.9,399.2 L2274.1,398.9 L2274.2,398.6 L2274.4,398.4 L2274.5,398.1 L2274.7,397.8 L2274.8,397.5 L2276.0,397.5 L2276.2,397.8 L2276.3,398.1 L2276.4,398.4 L2276.6,398.6 L2276.8,398.9 L2276.9,399.2 L2277.1,399.5 L2277.2,399.8 L2277.2,399.8 L2277.4,399.7 L2277.5,399.5 L2277.7,399.4 L2277.8,399.2 L2278.0,399.1 L2278.1,398.9 L2278.3,398.8 L2278.4,398.6 L2279.6,398.6 L2279.8,398.8 L2279.9,398.9 L2280.1,399.1 L2280.2,399.2 L2280.4,399.4 L2280.5,399.5 L2280.7,399.7 L2280.8,399.8 L2304.5,399.8 L2304.7,398.8 L2304.8,397.7 L2305.0,396.7 L2305.1,395.6 L2305.3,394.6 L2305.4,393.6 L2305.6,392.5 L2305.7,391.5 L2306.9,391.5 L2307.1,392.5 L2307.2,393.6 L2307.3,394.6 L2307.5,395.6 L2307.7,396.7 L2307.8,397.7 L2308.0,398.8 L2308.1,399.8 L2308.3,399.8 L2308.4,399.3 L2308.6,398.8 L2308.7,398.2 L2308.9,397.7 L2309.0,397.2 L2309.2,396.7 L2309.3,396.2 L2309.5,395.6 L2310.7,395.6 L2310.8,396.2 L2311.0,396.7 L2311.1,397.2 L2311.3,397.7 L2311.4,398.2 L2311.6,398.8 L2311.7,399.3 L2311.9,399.8 L2335.4,399.8 L2335.5,399.0 L2335.7,398.2 L2335.8,397.4 L2336.0,396.6 L2336.2,395.9 L2336.3,395.1 L2336.4,394.3 L2336.6,393.5 L2337.8,393.5 L2337.9,394.3 L2338.1,395.1 L2338.2,395.9 L2338.4,396.6 L2338.5,397.4 L2338.7,398.2 L2338.8,399.0 L2339.0,399.8 L2339.4,399.8 L2339.5,399.4 L2339.7,399.0 L2339.8,398.6 L2340.0,398.2 L2340.1,397.8 L2340.3,397.4 L2340.4,397.0 L2340.6,396.6 L2341.8,396.6 L2341.9,397.0 L2342.1,397.4 L2342.2,397.8 L2342.4,398.2 L2342.5,398.6 L2342.7,399.0 L2342.8,399.4 L2343.0,399.8 L2366.3,399.8 L2366.4,399.2 L2366.6,398.5 L2366.8,397.8 L2366.9,397.2 L2367.1,396.5 L2367.2,395.9 L2367.3,395.2 L2367.5,394.6 L2368.7,394.6 L2368.8,395.2 L2369.0,395.9 L2369.1,396.5 L2369.3,397.2 L2369.4,397.8 L2369.6,398.5 L2369.8,399.2 L2369.9,399.8 L2370.4,399.8 L2370.6,399.5 L2370.7,399.2 L2370.9,398.8 L2371.0,398.5 L2371.2,398.2 L2371.3,397.9 L2371.5,397.5 L2371.6,397.2 L2372.8,397.2 L2373.0,397.5 L2373.1,397.9 L2373.3,398.2 L2373.4,398.5 L2373.6,398.8 L2373.7,399.2 L2373.9,399.5 L2374.0,399.8 L2396.2,399.8 L2396.3,399.5 L2396.5,399.2 L2396.7,398.9 L2396.8,398.6 L2397.0,398.4 L2397.1,398.1 L2397.2,397.8 L2397.4,397.5 L2398.6,397.5 L2398.8,397.8 L2398.9,398.1 L2399.0,398.4 L2399.2,398.6 L2399.3,398.9 L2399.5,399.2 L2399.7,399.5 L2399.8,399.8 L2400.5,399.8 L2400.6,399.7 L2400.8,399.5 L2400.9,399.4 L2401.1,399.2 L2401.2,399.1 L2401.4,398.9 L2401.5,398.8 L2401.7,398.6 L2402.9,398.6 L2403.0,398.8 L2403.2,398.9 L2403.3,399.1 L2403.5,399.2 L2403.6,399.4 L2403.8,399.5 L2403.9,399.7 L2404.1,399.8 L2410.0,399.8" fill="none" stroke="#3a8585" stroke-width="3.5" stroke-linejoin="bevel"/>
<path d="M1431.0,226.5 L1431.7,226.8 L1432.4,226.9 L1433.1,227.3 L1433.8,226.9 L1434.6,227.3 L1435.3,225.4 L1436.0,226.4 L1436.7,227.5 L1437.4,226.9 L1438.1,227.4 L1438.8,225.7 L1439.5,226.6 L1440.3,226.1 L1441.0,226.8 L1441.7,226.9 L1442.4,225.7 L1443.1,226.2 L1443.8,226.4 L1444.5,227.8 L1445.2,227.5 L1446.0,226.2 L1446.7,227.7 L1447.4,226.2 L1448.1,227.3 L1448.8,226.3 L1449.5,226.0 L1450.2,228.0 L1450.9,226.6 L1451.7,226.6 L1452.4,228.4 L1453.1,228.1 L1453.8,226.9 L1454.5,228.4 L1455.2,227.5 L1455.9,227.8 L1456.6,226.8 L1457.3,228.4 L1458.0,227.8 L1458.7,228.4 L1459.4,228.3 L1460.1,227.0 L1460.8,227.1 L1461.5,226.7 L1462.2,226.6 L1462.9,226.4 L1463.6,227.0 L1464.3,227.6 L1465.0,226.3 L1465.7,227.8 L1466.4,227.0 L1467.1,227.0 L1467.8,228.1 L1468.5,227.4 L1469.2,227.0 L1469.9,227.4 L1470.6,227.9 L1471.3,226.4 L1472.0,228.4 L1472.7,226.4 L1473.4,227.9 L1474.1,228.2 L1474.8,226.3 L1475.5,228.0 L1476.2,227.1 L1476.9,227.6 L1477.6,226.3 L1478.3,226.4 L1479.0,226.7 L1479.7,228.4 L1480.4,226.7 L1481.2,227.9 L1481.9,228.2 L1482.6,228.2 L1483.3,226.8 L1484.0,226.8 L1484.7,227.2 L1485.5,227.7 L1486.2,226.2 L1486.9,227.6 L1487.6,227.6 L1488.3,227.7 L1489.0,225.9 L1489.8,227.9 L1490.5,225.9 L1491.2,226.4 L1491.9,227.0 L1492.6,227.6 L1493.4,226.3 L1494.1,227.6 L1494.8,226.7 L1495.5,226.2 L1496.2,226.1 L1496.9,225.8 L1497.7,225.6 L1498.4,225.7 L1499.1,226.8 L1499.8,227.5 L1500.5,225.6 L1501.2,225.3 L1502.0,227.3 L1502.7,226.3 L1503.4,226.0 L1504.1,225.5 L1504.8,226.2 L1505.5,226.6 L1506.2,225.6 L1506.9,225.5 L1507.6,224.5 L1508.3,226.3 L1509.0,224.2 L1509.7,225.1 L1510.4,225.8 L1511.1,224.1 L1511.8,225.3 L1512.6,225.7 L1513.3,224.9 L1514.0,225.1 L1514.7,223.5 L1515.4,224.1 L1516.1,223.4 L1516.8,224.8 L1517.5,223.4 L1518.2,223.7 L1518.9,224.8 L1519.6,224.3 L1520.3,224.5 L1521.0,223.2 L1521.7,223.2 L1522.4,223.5 L1523.1,222.8 L1523.8,222.2 L1524.5,222.3 L1525.2,221.5 L1525.9,221.9 L1526.6,223.0 L1527.3,222.8 L1528.0,221.9 L1528.7,221.4 L1529.4,220.9 L1530.1,220.2 L1530.8,220.4 L1531.5,221.4 L1532.2,221.4 L1532.9,220.1 L1533.6,220.8 L1534.3,220.6 L1535.0,220.3 L1535.7,220.0 L1536.4,220.1 L1537.2,218.7 L1537.9,218.9 L1538.7,217.4 L1539.4,217.3 L1540.2,217.4 L1540.9,216.7 L1541.7,215.3 L1542.4,216.2 L1543.2,215.0 L1543.9,214.3 L1544.7,212.5 L1545.4,213.1 L1546.2,212.0 L1546.9,213.3 L1547.7,213.2 L1548.4,214.4 L1549.1,214.4 L1549.8,215.1 L1550.6,214.5 L1551.3,215.5 L1552.0,216.1 L1552.8,216.7 L1553.5,216.1 L1554.2,217.0 L1555.0,217.0 L1555.7,216.5 L1556.4,217.0 L1557.2,216.8 L1557.9,215.7 L1558.6,215.6 L1559.4,214.7 L1560.1,216.1 L1560.8,216.2 L1561.6,215.0 L1562.3,215.4 L1563.0,215.3 L1563.8,215.2 L1564.5,213.9 L1565.2,215.0 L1565.9,214.3 L1566.7,214.2 L1567.4,213.4 L1568.1,213.6 L1568.8,213.7 L1569.6,213.1 L1570.3,213.1 L1571.0,211.3 L1571.7,211.3 L1572.5,211.7 L1573.2,211.9 L1573.9,210.7 L1574.6,211.5 L1575.4,211.1 L1576.1,209.5 L1576.8,210.2 L1577.5,209.5 L1578.2,209.0 L1579.0,209.0 L1579.7,209.2 L1580.4,208.7 L1581.1,208.6 L1581.8,208.0 L1582.5,208.8 L1583.3,208.4 L1584.0,208.8 L1584.7,208.6 L1585.4,207.6 L1586.1,208.9 L1586.8,206.7 L1587.6,207.4 L1588.3,207.0 L1589.0,207.1 L1589.7,206.3 L1590.4,207.7 L1591.2,206.5 L1591.9,205.5 L1592.6,206.6 L1593.3,205.3 L1594.0,206.1 L1594.7,205.5 L1595.5,205.8 L1596.2,206.5 L1596.9,206.0 L1597.6,204.9 L1598.3,205.6 L1599.0,205.1 L1599.8,204.3 L1600.5,203.6 L1601.2,204.4 L1601.9,204.2 L1602.6,205.0 L1603.3,204.9 L1604.0,204.0 L1604.7,203.3 L1605.4,204.4 L1606.2,202.3 L1606.9,202.4 L1607.6,203.3 L1608.3,203.3 L1609.0,202.1 L1609.7,203.1 L1610.4,203.5 L1611.1,202.3 L1611.8,202.3 L1612.5,201.7 L1613.2,201.7 L1613.9,203.1 L1614.6,201.7 L1615.4,202.8 L1616.1,202.6 L1616.8,201.8 L1617.5,200.9 L1618.2,202.4 L1618.9,201.2 L1619.6,200.9 L1620.3,200.1 L1621.0,201.0 L1621.7,199.4 L1622.4,198.4 L1623.1,198.2 L1623.8,196.9 L1624.6,197.4 L1625.3,196.4 L1626.0,195.5 L1626.7,196.1 L1627.4,195.6 L1628.1,193.2 L1628.8,194.8 L1629.6,194.7 L1630.3,196.6 L1631.0,196.7 L1631.8,195.9 L1632.5,196.4 L1633.2,196.6 L1633.9,198.9 L1634.7,197.8 L1635.4,198.9 L1636.1,198.6 L1636.9,198.9 L1637.6,198.7 L1638.3,199.0 L1639.1,197.6 L1639.8,198.9 L1640.5,197.8 L1641.3,198.3 L1642.0,197.8 L1642.8,197.7 L1643.5,198.1 L1644.2,197.9 L1645.0,197.6 L1645.7,198.4 L1646.4,198.0 L1647.2,196.7 L1647.9,197.1 L1648.6,197.5 L1649.4,198.5 L1650.1,198.4 L1650.8,197.5 L1651.5,196.3 L1652.2,197.9 L1652.9,197.0 L1653.6,197.3 L1654.3,197.5 L1655.1,197.3 L1655.8,196.8 L1656.5,197.7 L1657.2,196.5 L1657.9,196.4 L1658.6,197.4 L1659.3,195.8 L1660.0,196.0 L1660.7,197.1 L1661.4,195.3 L1662.1,196.9 L1662.8,196.5 L1663.5,195.9 L1664.3,195.5 L1665.0,196.5 L1665.7,196.7 L1666.4,194.9 L1667.1,195.6 L1667.8,195.7 L1668.5,195.5 L1669.3,195.5 L1670.0,195.5 L1670.8,196.9 L1671.5,197.8 L1672.3,196.6 L1673.1,197.3 L1673.8,199.0 L1674.6,199.3 L1675.3,199.1 L1676.0,197.8 L1676.8,199.4 L1677.5,200.0 L1678.2,200.1 L1678.9,199.6 L1679.6,198.2 L1680.3,200.0 L1681.1,198.7 L1681.8,199.7 L1682.5,200.5 L1683.2,200.0 L1683.9,198.8 L1684.6,199.2 L1685.4,200.7 L1686.1,199.1 L1686.8,200.1 L1687.5,199.8 L1688.2,199.3 L1689.0,200.4 L1689.7,199.2 L1690.4,199.4 L1691.1,200.1 L1691.8,199.5 L1692.5,199.5 L1693.3,200.7 L1694.0,201.1 L1694.7,201.5 L1695.4,199.9 L1696.1,200.7 L1696.8,200.5 L1697.6,201.2 L1698.3,201.0 L1699.0,202.1 L1699.7,200.7 L1700.4,199.8 L1701.1,201.1 L1701.8,199.8 L1702.5,200.7 L1703.2,200.2 L1703.9,201.0 L1704.6,200.1 L1705.3,200.1 L1706.0,199.1 L1706.7,199.6 L1707.4,198.2 L1708.2,198.6 L1708.9,197.3 L1709.7,195.7 L1710.4,195.2 L1711.2,194.8 L1711.9,194.8 L1712.7,193.9 L1713.6,195.5 L1714.4,195.7 L1715.2,194.8 L1716.0,197.3 L1716.8,197.2 L1717.6,198.5 L1718.4,200.8 L1719.2,201.2 L1720.0,203.8 L1720.8,202.5 L1721.6,201.6 L1722.4,202.2 L1723.2,200.0 L1724.0,201.0 L1724.8,189.4 L1725.6,179.4 L1726.4,171.0 L1727.1,160.7 L1727.9,150.1 L1728.6,140.2 L1729.3,151.7 L1730.1,160.7 L1730.8,170.7 L1731.5,179.9 L1732.3,191.6 L1733.0,201.7 L1733.7,201.4 L1734.4,201.5 L1735.1,202.1 L1735.8,201.4 L1736.5,201.4 L1737.2,200.8 L1737.9,202.3 L1738.6,201.8 L1739.3,202.1 L1740.0,201.3 L1740.7,203.0 L1741.4,203.1 L1742.1,204.1 L1742.8,204.9 L1743.6,206.1 L1744.3,206.1 L1745.0,206.3 L1745.7,207.0 L1746.4,207.4 L1747.2,207.2 L1747.9,209.1 L1748.6,208.3 L1749.4,209.0 L1750.1,207.4 L1750.8,208.6 L1751.6,209.6 L1752.3,209.1 L1753.0,208.8 L1753.8,208.9 L1754.5,208.2 L1755.2,208.4 L1755.9,208.5 L1756.7,209.1 L1757.4,209.2 L1758.1,210.4 L1758.9,208.9 L1759.6,209.2 L1760.3,209.3 L1761.1,209.2 L1761.8,209.5 L1762.5,209.4 L1763.2,209.9 L1763.9,208.9 L1764.6,210.8 L1765.3,209.6 L1766.0,210.8 L1766.7,210.3 L1767.4,210.2 L1768.1,209.7 L1768.8,210.8 L1769.5,208.9 L1770.3,210.1 L1771.0,209.3 L1771.7,210.1 L1772.4,210.2 L1773.1,208.9 L1773.8,209.0 L1774.5,208.6 L1775.2,209.0 L1775.9,208.6 L1776.6,209.3 L1777.3,210.6 L1778.0,209.2 L1778.8,206.7 L1779.5,204.7 L1780.2,201.9 L1781.0,200.5 L1781.8,196.5 L1782.7,191.3 L1783.5,187.4 L1784.5,184.9 L1785.6,182.0 L1786.3,183.7 L1787.1,185.5 L1787.8,189.0 L1788.7,190.9 L1789.6,195.0 L1790.5,200.6 L1791.2,202.3 L1792.0,204.0 L1792.8,207.6 L1793.5,211.1 L1794.2,210.8 L1794.9,211.2 L1795.6,211.3 L1796.3,212.0 L1797.0,214.6 L1797.7,213.7 L1798.5,214.8 L1799.2,212.9 L1799.9,213.4 L1800.6,213.0 L1801.4,213.8 L1802.1,213.1 L1802.8,213.6 L1803.6,214.0 L1804.3,213.9 L1805.0,213.4 L1805.8,213.4 L1806.5,215.5 L1807.2,213.8 L1807.9,214.6 L1808.7,214.4 L1809.4,214.8 L1810.1,213.4 L1810.9,213.5 L1811.6,212.6 L1812.3,213.1 L1813.1,213.6 L1813.8,212.4 L1814.5,212.6 L1815.3,210.8 L1816.0,209.9 L1816.7,211.8 L1817.5,212.4 L1818.2,213.3 L1818.9,213.5 L1819.6,214.8 L1820.3,215.7 L1821.1,216.8 L1821.8,216.2 L1822.5,216.5 L1823.2,217.3 L1823.9,216.0 L1824.7,215.8 L1825.4,216.2 L1826.1,215.7 L1826.8,217.2 L1827.5,217.3 L1828.3,215.0 L1829.1,213.4 L1829.9,212.1 L1830.7,211.3 L1831.5,209.8 L1832.3,209.3 L1833.1,211.2 L1833.9,211.9 L1834.7,213.0 L1835.4,215.9 L1836.2,216.0 L1837.0,217.8 L1837.7,218.1 L1838.4,218.4 L1839.2,217.9 L1839.9,218.7 L1840.6,218.5 L1841.3,219.6 L1842.1,219.3 L1842.8,220.1 L1843.5,219.7 L1844.2,220.0 L1845.0,219.7 L1845.7,219.5 L1846.4,220.4 L1847.1,220.1 L1847.9,220.9 L1848.6,220.4 L1849.3,220.5 L1850.0,219.6 L1850.8,220.9 L1851.5,220.1 L1852.2,219.6 L1853.0,218.6 L1853.7,217.9 L1854.5,217.2 L1855.2,217.3 L1856.0,215.5 L1856.7,215.7 L1857.4,217.9 L1858.1,218.2 L1858.8,217.7 L1859.6,218.4 L1860.3,219.2 L1861.0,220.4 L1861.7,222.2 L1862.4,221.9 L1863.1,220.6 L1863.8,219.2 L1864.6,219.1 L1865.3,218.4 L1866.0,217.8 L1866.7,216.6 L1867.4,217.3 L1868.2,217.3 L1868.9,216.6 L1869.6,214.6 L1870.3,215.1 L1871.0,215.0 L1871.7,216.8 L1872.4,216.9 L1873.2,218.7 L1873.9,219.0 L1874.6,218.2 L1875.3,219.3 L1876.0,221.3 L1876.7,220.3 L1877.5,220.3 L1878.2,220.3 L1878.9,221.0 L1879.6,221.4 L1880.4,220.5 L1881.1,221.4 L1881.8,220.6 L1882.6,219.5 L1883.3,221.1 L1884.0,220.2 L1884.8,219.4 L1885.5,221.5 L1886.2,219.4 L1886.9,220.6 L1887.7,220.4 L1888.4,221.2 L1889.1,219.4 L1889.9,218.2 L1890.6,217.5 L1891.3,216.5 L1892.0,216.5 L1892.8,215.3 L1893.5,215.4 L1894.2,213.4 L1895.0,214.5 L1895.7,215.1 L1896.5,217.5 L1897.2,218.1 L1898.0,218.9 L1898.7,219.2 L1899.5,219.6 L1900.2,219.0 L1900.9,220.5 L1901.7,219.8 L1902.4,218.8 L1903.1,219.1 L1903.8,218.9 L1904.6,220.3 L1905.3,220.7 L1906.0,219.1 L1906.7,220.5 L1907.5,219.4 L1908.2,220.2 L1908.9,220.6 L1909.6,220.1 L1910.3,220.5 L1911.1,219.5 L1911.8,218.7 L1912.5,219.8 L1913.2,220.0 L1914.0,219.1 L1914.7,219.6 L1915.4,219.4 L1916.1,217.0 L1916.9,215.8 L1917.6,214.2 L1918.3,212.6 L1919.1,211.3 L1919.8,208.9 L1920.6,208.3 L1921.3,206.2 L1922.1,208.6 L1922.8,210.3 L1923.6,212.5 L1924.3,214.4 L1925.1,217.2 L1925.8,218.4 L1926.6,221.1 L1927.3,221.4 L1928.0,221.1 L1928.7,220.6 L1929.5,220.2 L1930.2,220.3 L1930.9,221.0 L1931.6,221.6 L1932.3,222.0 L1933.0,222.0 L1933.7,221.2 L1934.4,222.6 L1935.2,221.2 L1935.9,222.3 L1936.6,220.9 L1937.3,222.5 L1938.0,222.4 L1938.7,223.1 L1939.4,223.0 L1940.1,222.6 L1940.9,223.0 L1941.6,222.9 L1942.3,222.7 L1943.0,221.9 L1943.7,222.5 L1944.4,223.4 L1945.1,221.9 L1945.8,223.5 L1946.5,222.6 L1947.2,222.3 L1947.9,221.4 L1948.6,222.3 L1949.3,221.8 L1950.1,222.8 L1950.8,223.4 L1951.5,223.4 L1952.2,222.7 L1952.9,222.3 L1953.6,221.6 L1954.3,222.9 L1955.0,222.6 L1955.7,223.0 L1956.4,222.2 L1957.1,223.4 L1957.8,221.9 L1958.5,222.1 L1959.2,222.0 L1959.9,222.8 L1960.6,223.4 L1961.3,221.8 L1962.1,222.8 L1962.8,223.1 L1963.5,221.9 L1964.2,221.5 L1964.9,222.6 L1965.6,223.2 L1966.3,223.3 L1967.0,223.0 L1967.7,222.3 L1968.4,222.3 L1969.2,221.9 L1969.9,222.1 L1970.7,220.1 L1971.4,219.4 L1972.2,219.5 L1972.9,219.7 L1973.7,217.3 L1974.5,217.8 L1975.2,218.9 L1976.0,220.7 L1976.7,221.7 L1977.5,221.6 L1978.2,222.5 L1979.0,224.2 L1979.7,224.1 L1980.4,223.9 L1981.1,223.7 L1981.8,222.0 L1982.5,222.6 L1983.2,223.1 L1983.9,223.1 L1984.7,221.5 L1985.4,222.4 L1986.1,221.7 L1986.8,222.0 L1987.5,220.2 L1988.2,221.0 L1988.9,221.0 L1989.6,219.9 L1990.3,219.5 L1991.0,220.0 L1991.7,220.2 L1992.4,220.4 L1993.2,220.9 L1993.9,222.3 L1994.6,221.5 L1995.3,223.2 L1996.0,223.5 L1996.7,223.6 L1997.5,223.5 L1998.2,223.3 L1998.9,223.7 L1999.6,223.7 L2000.3,222.9 L2001.1,223.6 L2001.8,221.6 L2002.5,221.6 L2003.2,221.4 L2004.0,221.7 L2004.7,222.0 L2005.4,222.1 L2006.1,222.5 L2006.9,222.6 L2007.6,221.1 L2008.3,220.5 L2009.1,219.6 L2009.8,218.0 L2010.6,216.2 L2011.3,216.0 L2012.0,214.2 L2012.8,213.7 L2013.5,212.0 L2014.3,211.8 L2015.0,210.5 L2015.8,210.6 L2016.5,214.2 L2017.3,216.2 L2018.1,217.3 L2018.9,219.0 L2019.6,221.9 L2020.4,223.7 L2021.2,224.2 L2021.9,224.4 L2022.7,222.9 L2023.5,222.4 L2024.2,222.6 L2025.0,222.7 L2025.7,222.7 L2026.5,221.9 L2027.3,221.0 L2028.0,220.8 L2028.8,221.7 L2029.5,220.6 L2030.3,219.3 L2031.0,219.8 L2031.8,219.1 L2032.5,219.8 L2033.3,218.2 L2034.0,218.3 L2034.8,214.3 L2035.7,211.6 L2036.5,209.1 L2037.3,204.6 L2038.0,206.6 L2038.7,210.2 L2039.4,210.8 L2040.2,213.7 L2040.9,217.1 L2041.6,217.7 L2042.4,220.1 L2043.1,220.0 L2043.9,220.0 L2044.6,221.2 L2045.4,222.4 L2046.1,223.0 L2046.9,224.0 L2047.6,223.0 L2048.3,223.4 L2049.0,225.0 L2049.7,223.9 L2050.4,223.9 L2051.1,223.1 L2051.8,223.5 L2052.5,225.0 L2053.3,224.4 L2054.0,224.0 L2054.7,223.0 L2055.4,223.8 L2056.1,224.6 L2056.8,223.9 L2057.5,224.2 L2058.2,224.9 L2058.9,224.3 L2059.6,224.3 L2060.3,223.0 L2061.0,223.0 L2061.7,224.6 L2062.4,223.8 L2063.1,224.8 L2063.8,224.7 L2064.6,224.9 L2065.3,223.7 L2066.0,225.1 L2066.7,224.6 L2067.4,224.9 L2068.1,223.2 L2068.8,224.6 L2069.5,223.8 L2070.2,225.0 L2070.9,224.8 L2071.6,222.7 L2072.3,222.8 L2073.0,222.2 L2073.7,222.3 L2074.4,221.5 L2075.1,222.0 L2075.8,220.5 L2076.5,220.3 L2077.2,220.7 L2077.9,219.6 L2078.6,220.1 L2079.3,221.0 L2080.1,220.7 L2080.8,219.0 L2081.5,218.4 L2082.2,219.9 L2082.9,220.0 L2083.6,219.0 L2084.3,217.8 L2085.0,217.8 L2085.7,219.0 L2086.5,218.9 L2087.2,216.6 L2087.9,216.8 L2088.6,217.1 L2089.3,216.5 L2090.1,218.2 L2090.8,218.0 L2091.6,219.5 L2092.4,218.8 L2093.1,220.2 L2093.9,221.9 L2094.6,221.9 L2095.4,221.2 L2096.2,221.9 L2096.9,223.7 L2097.7,223.7 L2098.4,223.4 L2099.1,223.4 L2099.8,223.4 L2100.5,224.0 L2101.2,222.1 L2101.9,222.6 L2102.6,221.6 L2103.4,222.0 L2104.1,222.1 L2104.8,220.5 L2105.5,221.0 L2106.2,221.3 L2106.9,219.5 L2107.6,220.9 L2108.3,219.8 L2109.0,220.7 L2109.7,221.6 L2110.4,222.7 L2111.1,221.8 L2111.9,223.4 L2112.6,223.1 L2113.3,224.6 L2114.0,225.2 L2114.7,225.1 L2115.4,225.7 L2116.1,226.0 L2116.8,226.4 L2117.5,227.0 L2118.2,225.7 L2118.9,226.0 L2119.6,226.3 L2120.3,226.8 L2121.0,226.8 L2121.7,226.8 L2122.4,225.3 L2123.1,224.9 L2123.9,226.6 L2124.6,224.6 L2125.3,225.4 L2126.0,226.0 L2126.7,225.5 L2127.4,225.1 L2128.1,226.3 L2128.8,224.8 L2129.5,225.4 L2130.2,225.9 L2130.9,224.3 L2131.6,224.8 L2132.4,223.8 L2133.2,222.7 L2134.0,220.6 L2134.8,219.9 L2135.5,219.4 L2136.2,219.8 L2136.9,220.7 L2137.6,220.5 L2138.4,222.7 L2139.1,221.5 L2139.8,221.8 L2140.5,223.3 L2141.2,223.5 L2142.0,222.9 L2142.8,224.6 L2143.6,224.6 L2144.3,224.5 L2145.1,225.4 L2145.9,225.0 L2146.7,225.5 L2147.4,226.8 L2148.2,225.9 L2148.9,226.9 L2149.6,225.3 L2150.3,225.2 L2151.1,225.0 L2151.8,226.5 L2152.5,226.1 L2153.3,224.9 L2154.0,225.0 L2154.7,226.7 L2155.5,226.0 L2156.2,226.8 L2156.9,225.0 L2157.7,226.2 L2158.4,225.2 L2159.1,226.5 L2159.8,226.2 L2160.6,226.2 L2161.3,225.4 L2162.1,225.9 L2162.9,223.0 L2163.6,221.9 L2164.4,222.2 L2165.2,219.8 L2165.9,218.7 L2166.7,218.5 L2167.5,217.8 L2168.2,219.4 L2168.9,220.1 L2169.6,219.7 L2170.4,222.0 L2171.1,223.5 L2171.8,222.9 L2172.5,225.4 L2173.2,224.3 L2173.9,224.4 L2174.7,223.7 L2175.4,225.4 L2176.1,224.8 L2176.8,225.7 L2177.6,224.7 L2178.3,224.0 L2179.0,224.2 L2179.7,224.3 L2180.5,225.8 L2181.2,224.2 L2181.9,223.9 L2182.6,224.5 L2183.4,223.9 L2184.1,224.6 L2184.8,225.1 L2185.5,224.1 L2186.3,222.1 L2187.0,221.0 L2187.8,222.7 L2188.5,224.0 L2189.3,224.3 L2190.1,225.5 L2190.8,227.1 L2191.6,226.3 L2192.3,226.6 L2193.0,227.1 L2193.7,227.2 L2194.4,228.0 L2195.1,227.3 L2195.8,227.5 L2196.5,227.0 L2197.2,227.8 L2197.9,227.9 L2198.7,226.7 L2199.4,226.3 L2200.1,226.7 L2200.8,226.9 L2201.5,228.1 L2202.2,226.7 L2202.9,227.5 L2203.6,227.6 L2204.3,228.3 L2205.0,226.4 L2205.7,227.9 L2206.4,226.9 L2207.1,226.4 L2207.8,227.6 L2208.5,228.1 L2209.2,227.5 L2209.9,226.4 L2210.6,228.4 L2211.4,227.1 L2212.1,227.7 L2212.8,227.9 L2213.5,226.9 L2214.2,227.2 L2214.9,227.0 L2215.6,226.5 L2216.3,226.5 L2217.0,227.9 L2217.7,227.2 L2218.4,228.3 L2219.1,226.5 L2219.8,227.0 L2220.5,226.8 L2221.2,228.5 L2221.9,228.1 L2222.6,228.4 L2223.3,227.5 L2224.1,226.7 L2224.8,227.4 L2225.5,226.9 L2226.2,226.5 L2226.9,227.7 L2227.6,227.1 L2228.3,226.7 L2229.0,227.6 L2229.7,228.6 L2230.4,228.6 L2231.1,227.6 L2231.8,226.9 L2232.5,228.4 L2233.2,227.0 L2233.9,228.0 L2234.6,227.0 L2235.3,229.1 L2236.0,228.1 L2236.7,227.9 L2237.4,227.6 L2238.1,228.3 L2238.8,229.3 L2239.5,228.1 L2240.2,227.7 L2240.9,228.4 L2241.6,229.3 L2242.3,228.2 L2243.0,228.8 L2243.7,229.5 L2244.4,228.2 L2245.1,229.3 L2245.8,228.8 L2246.5,228.0 L2247.2,227.8 L2247.9,229.8 L2248.6,228.8 L2249.3,228.8 L2250.0,229.9 L2250.7,229.2 L2251.4,229.1 L2252.1,228.7 L2252.8,229.7 L2253.5,228.7 L2254.2,229.2 L2254.9,229.9 L2255.6,229.6 L2256.3,228.6 L2257.0,228.8 L2257.7,229.9 L2258.4,230.1 L2259.1,228.7 L2259.8,230.8 L2260.5,228.9 L2261.2,229.0 L2261.9,228.9 L2262.6,229.7 L2263.3,230.2 L2264.0,230.7 L2264.7,229.2 L2265.4,230.4 L2266.1,229.1 L2266.8,230.1 L2267.5,229.4 L2268.2,229.7 L2268.9,229.0 L2269.6,230.5 L2270.3,229.2 L2271.0,230.6 L2271.7,229.7 L2272.4,230.2 L2273.1,230.4 L2273.8,230.0 L2274.5,230.9 L2275.2,231.0 L2275.9,229.6 L2276.6,229.7 L2277.3,230.9 L2278.0,229.3 L2278.7,230.0 L2279.4,230.0 L2280.2,231.2 L2280.9,229.3 L2281.6,230.5 L2282.3,230.7 L2283.0,230.7 L2283.7,229.1 L2284.4,231.2 L2285.1,229.8 L2285.8,231.0 L2286.5,230.6 L2287.2,230.1 L2287.9,231.0 L2288.6,230.7 L2289.3,229.9 L2290.0,230.8 L2290.7,230.3 L2291.4,230.8 L2292.1,230.6 L2292.8,231.0 L2293.5,229.6 L2294.2,230.3 L2294.9,229.3 L2295.6,231.0 L2296.3,231.0 L2297.0,231.1 L2297.7,229.1 L2298.5,229.8 L2299.2,229.4 L2300.0,228.3 L2300.7,228.1 L2301.5,229.5 L2302.2,228.9 L2303.0,227.2 L2303.7,228.2 L2304.4,228.1 L2305.1,227.8 L2305.8,228.7 L2306.5,228.1 L2307.2,228.4 L2307.9,228.1 L2308.6,229.9 L2309.3,230.0 L2310.0,230.6 L2310.7,230.4 L2311.4,230.5 L2312.1,230.5 L2312.8,231.8 L2313.5,231.2 L2314.2,232.0 L2314.9,232.7 L2315.6,231.8 L2316.3,232.2 L2317.0,230.7 L2317.7,231.0 L2318.4,232.2 L2319.1,230.5 L2319.8,230.2 L2320.5,229.9 L2321.2,231.5 L2322.0,229.9 L2322.7,230.5 L2323.4,230.3 L2324.1,231.0 L2324.8,230.1 L2325.5,230.1 L2326.2,228.9 L2326.9,230.4 L2327.6,230.2 L2328.3,229.8 L2329.0,230.3 L2329.7,230.0 L2330.4,230.3 L2331.1,230.7 L2331.9,230.3 L2332.6,229.1 L2333.3,231.1 L2334.0,231.5 L2334.7,229.8 L2335.4,229.7 L2336.1,230.4 L2336.8,229.9 L2337.5,230.6 L2338.2,230.1 L2339.0,230.5 L2339.7,230.2 L2340.4,231.2 L2341.1,231.0 L2341.8,232.1 L2342.5,231.4 L2343.2,230.9 L2343.9,232.7 L2344.7,232.6 L2345.4,232.1 L2346.1,231.1 L2346.8,231.5 L2347.5,231.7 L2348.2,231.6 L2348.9,230.8 L2349.7,231.8 L2350.4,232.5 L2351.1,232.3 L2351.8,232.7 L2352.5,232.4 L2353.2,232.6 L2354.0,232.8 L2354.7,232.9 L2355.4,232.7 L2356.1,231.9 L2356.8,232.4 L2357.5,232.5 L2358.2,233.0 L2359.0,232.6 L2359.7,232.1 L2360.4,231.5 L2361.1,231.9 L2361.8,231.7 L2362.5,232.7 L2363.2,232.9 L2364.0,231.6 L2364.7,232.4 L2365.4,233.1 L2366.1,232.1 L2366.8,231.5 L2367.5,232.7 L2368.3,232.2 L2369.0,231.7 L2369.7,232.0 L2370.4,231.5 L2371.1,231.8 L2371.8,232.4 L2372.5,231.7 L2373.3,231.5 L2374.0,232.8 L2374.7,233.7 L2375.4,233.4 L2376.1,232.3 L2376.8,233.7 L2377.5,231.8 L2378.2,232.0 L2378.9,231.7 L2379.6,231.9 L2380.3,233.1 L2381.0,233.4 L2381.8,232.9 L2382.5,233.6 L2383.2,232.8 L2383.9,233.9 L2384.6,233.2 L2385.3,233.1 L2386.0,232.3 L2386.7,232.9 L2387.4,233.0 L2388.1,233.8 L2388.8,232.5 L2389.5,232.7 L2390.2,233.9 L2390.9,232.2 L2391.6,233.3 L2392.3,232.6 L2393.1,233.6 L2393.8,233.5 L2394.5,232.4 L2395.2,233.8 L2395.9,233.1 L2396.6,233.0 L2397.3,234.2 L2398.0,234.0 L2398.7,233.0 L2399.4,233.9 L2400.1,232.7 L2400.8,233.5 L2401.5,232.6 L2402.2,233.9 L2402.9,234.5 L2403.6,233.9 L2404.4,232.6 L2405.1,233.7 L2405.8,233.6 L2406.5,233.6 L2407.2,232.9 L2407.9,233.2 L2408.6,233.6 L2409.3,232.8 L2410.0,234.2" fill="none" stroke="#4b91fa" stroke-width="3.9" stroke-linejoin="round" stroke-linecap="butt"/>
<text x="1431.0" y="818" font-size="50" text-anchor="middle" fill="#000">10</text>
<text x="1570.9" y="818" font-size="50" text-anchor="middle" fill="#000">20</text>
<text x="1710.7" y="818" font-size="50" text-anchor="middle" fill="#000">30</text>
<text x="1850.6" y="818" font-size="50" text-anchor="middle" fill="#000">40</text>
<text x="1990.4" y="818" font-size="50" text-anchor="middle" fill="#000">50</text>
<text x="2130.3" y="818" font-size="50" text-anchor="middle" fill="#000">60</text>
<text x="2270.1" y="818" font-size="50" text-anchor="middle" fill="#000">70</text>
<text x="2410.0" y="818" font-size="50" text-anchor="middle" fill="#000">80</text>
<text x="1920.6" y="909.3" font-size="62" text-anchor="middle" fill="#000">2Theta (deg.)</text>
<text transform="translate(1357.5,633) rotate(-90)" x="0" y="0" font-size="62.3" fill="#000">Intensity (a.u.)</text>
<text x="1262.5" y="111.5" font-size="85" fill="#000">(b)</text>
<text x="2052" y="167.6" font-size="50" fill="#4b91fa" transform="translate(2052,0) scale(0.962,1) translate(-2052,0)">NiS/NiS<tspan font-size="29" dy="16">2</tspan><tspan dy="-16">/Mn</tspan><tspan font-size="29" dy="16">2</tspan><tspan dy="-16">O</tspan><tspan font-size="29" dy="16">3</tspan></text>
<text x="2020" y="304" font-size="50" fill="#3a8585" transform="translate(2020,0) scale(0.958,1) translate(-2020,0)">NiS<tspan font-size="29" dy="16">2</tspan><tspan dy="-16"> PDF#89-3058</tspan></text>
<text x="2025" y="472.2" font-size="50" fill="#ff3333" transform="translate(2025,0) scale(0.958,1) translate(-2025,0)">NiS PDF#89-1956</text>
<text x="2001" y="630.1" font-size="50" fill="#ff7f3a" transform="translate(2001,0) scale(0.96,1) translate(-2001,0)">Mn<tspan font-size="29" dy="16">2</tspan><tspan dy="-16">O</tspan><tspan font-size="29" dy="16">3</tspan><tspan dy="-16"> PDF#2-896</tspan></text>
</svg></body></html>
